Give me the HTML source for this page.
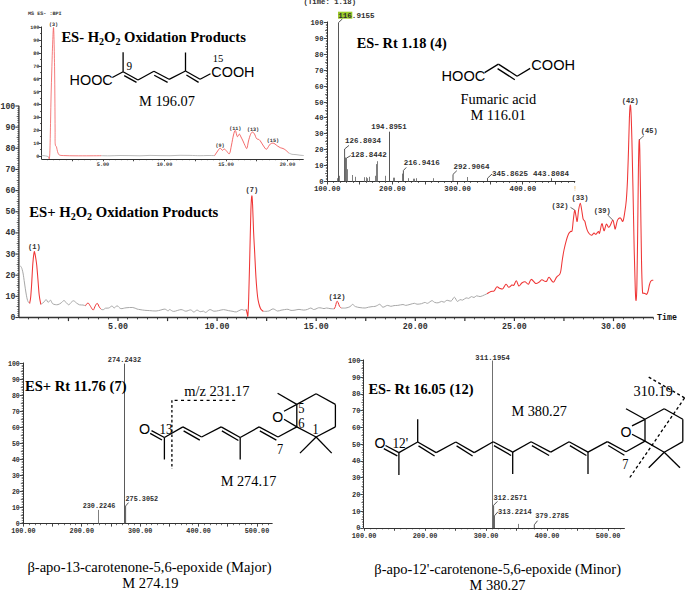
<!DOCTYPE html>
<html><head><meta charset="utf-8"><style>
html,body{margin:0;padding:0;background:#fff;}
body{width:685px;height:591px;overflow:hidden;}
svg{display:block;}
</style></head><body>
<svg width="685" height="591" viewBox="0 0 685 591" font-family="Liberation Sans, sans-serif">
<rect width="685" height="591" fill="#fff"/>
<line x1="18.9" y1="105.8" x2="18.9" y2="317.5" stroke="#333" stroke-width="1.3" />
<line x1="15.4" y1="317.5" x2="18.9" y2="317.5" stroke="#333" stroke-width="1.1" />
<line x1="17.4" y1="315.5" x2="18.9" y2="315.5" stroke="#333" stroke-width="0.7" />
<line x1="17.4" y1="313.5" x2="18.9" y2="313.5" stroke="#333" stroke-width="0.7" />
<line x1="17.4" y1="311.5" x2="18.9" y2="311.5" stroke="#333" stroke-width="0.7" />
<line x1="17.4" y1="309.5" x2="18.9" y2="309.5" stroke="#333" stroke-width="0.7" />
<line x1="16.7" y1="306.5" x2="18.9" y2="306.5" stroke="#333" stroke-width="0.8" />
<line x1="17.4" y1="304.5" x2="18.9" y2="304.5" stroke="#333" stroke-width="0.7" />
<line x1="17.4" y1="302.5" x2="18.9" y2="302.5" stroke="#333" stroke-width="0.7" />
<line x1="17.4" y1="300.5" x2="18.9" y2="300.5" stroke="#333" stroke-width="0.7" />
<line x1="17.4" y1="298.5" x2="18.9" y2="298.5" stroke="#333" stroke-width="0.7" />
<line x1="15.4" y1="296.35" x2="18.9" y2="296.35" stroke="#333" stroke-width="1.1" />
<line x1="17.4" y1="294.5" x2="18.9" y2="294.5" stroke="#333" stroke-width="0.7" />
<line x1="17.4" y1="292.5" x2="18.9" y2="292.5" stroke="#333" stroke-width="0.7" />
<line x1="17.4" y1="290.5" x2="18.9" y2="290.5" stroke="#333" stroke-width="0.7" />
<line x1="17.4" y1="287.5" x2="18.9" y2="287.5" stroke="#333" stroke-width="0.7" />
<line x1="16.7" y1="285.5" x2="18.9" y2="285.5" stroke="#333" stroke-width="0.8" />
<line x1="17.4" y1="283.5" x2="18.9" y2="283.5" stroke="#333" stroke-width="0.7" />
<line x1="17.4" y1="281.5" x2="18.9" y2="281.5" stroke="#333" stroke-width="0.7" />
<line x1="17.4" y1="279.5" x2="18.9" y2="279.5" stroke="#333" stroke-width="0.7" />
<line x1="17.4" y1="277.5" x2="18.9" y2="277.5" stroke="#333" stroke-width="0.7" />
<line x1="15.4" y1="275.2" x2="18.9" y2="275.2" stroke="#333" stroke-width="1.1" />
<line x1="17.4" y1="273.5" x2="18.9" y2="273.5" stroke="#333" stroke-width="0.7" />
<line x1="17.4" y1="270.5" x2="18.9" y2="270.5" stroke="#333" stroke-width="0.7" />
<line x1="17.4" y1="268.5" x2="18.9" y2="268.5" stroke="#333" stroke-width="0.7" />
<line x1="17.4" y1="266.5" x2="18.9" y2="266.5" stroke="#333" stroke-width="0.7" />
<line x1="16.7" y1="264.5" x2="18.9" y2="264.5" stroke="#333" stroke-width="0.8" />
<line x1="17.4" y1="262.5" x2="18.9" y2="262.5" stroke="#333" stroke-width="0.7" />
<line x1="17.4" y1="260.5" x2="18.9" y2="260.5" stroke="#333" stroke-width="0.7" />
<line x1="17.4" y1="258.5" x2="18.9" y2="258.5" stroke="#333" stroke-width="0.7" />
<line x1="17.4" y1="256.5" x2="18.9" y2="256.5" stroke="#333" stroke-width="0.7" />
<line x1="15.4" y1="254.05" x2="18.9" y2="254.05" stroke="#333" stroke-width="1.1" />
<line x1="17.4" y1="251.5" x2="18.9" y2="251.5" stroke="#333" stroke-width="0.7" />
<line x1="17.4" y1="249.5" x2="18.9" y2="249.5" stroke="#333" stroke-width="0.7" />
<line x1="17.4" y1="247.5" x2="18.9" y2="247.5" stroke="#333" stroke-width="0.7" />
<line x1="17.4" y1="245.5" x2="18.9" y2="245.5" stroke="#333" stroke-width="0.7" />
<line x1="16.7" y1="243.5" x2="18.9" y2="243.5" stroke="#333" stroke-width="0.8" />
<line x1="17.4" y1="241.5" x2="18.9" y2="241.5" stroke="#333" stroke-width="0.7" />
<line x1="17.4" y1="239.5" x2="18.9" y2="239.5" stroke="#333" stroke-width="0.7" />
<line x1="17.4" y1="237.5" x2="18.9" y2="237.5" stroke="#333" stroke-width="0.7" />
<line x1="17.4" y1="235.5" x2="18.9" y2="235.5" stroke="#333" stroke-width="0.7" />
<line x1="15.4" y1="232.9" x2="18.9" y2="232.9" stroke="#333" stroke-width="1.1" />
<line x1="17.4" y1="230.5" x2="18.9" y2="230.5" stroke="#333" stroke-width="0.7" />
<line x1="17.4" y1="228.5" x2="18.9" y2="228.5" stroke="#333" stroke-width="0.7" />
<line x1="17.4" y1="226.5" x2="18.9" y2="226.5" stroke="#333" stroke-width="0.7" />
<line x1="17.4" y1="224.5" x2="18.9" y2="224.5" stroke="#333" stroke-width="0.7" />
<line x1="16.7" y1="222.5" x2="18.9" y2="222.5" stroke="#333" stroke-width="0.8" />
<line x1="17.4" y1="220.5" x2="18.9" y2="220.5" stroke="#333" stroke-width="0.7" />
<line x1="17.4" y1="218.5" x2="18.9" y2="218.5" stroke="#333" stroke-width="0.7" />
<line x1="17.4" y1="215.5" x2="18.9" y2="215.5" stroke="#333" stroke-width="0.7" />
<line x1="17.4" y1="213.5" x2="18.9" y2="213.5" stroke="#333" stroke-width="0.7" />
<line x1="15.4" y1="211.75" x2="18.9" y2="211.75" stroke="#333" stroke-width="1.1" />
<line x1="17.4" y1="209.5" x2="18.9" y2="209.5" stroke="#333" stroke-width="0.7" />
<line x1="17.4" y1="207.5" x2="18.9" y2="207.5" stroke="#333" stroke-width="0.7" />
<line x1="17.4" y1="205.5" x2="18.9" y2="205.5" stroke="#333" stroke-width="0.7" />
<line x1="17.4" y1="203.5" x2="18.9" y2="203.5" stroke="#333" stroke-width="0.7" />
<line x1="16.7" y1="201.5" x2="18.9" y2="201.5" stroke="#333" stroke-width="0.8" />
<line x1="17.4" y1="199.5" x2="18.9" y2="199.5" stroke="#333" stroke-width="0.7" />
<line x1="17.4" y1="196.5" x2="18.9" y2="196.5" stroke="#333" stroke-width="0.7" />
<line x1="17.4" y1="194.5" x2="18.9" y2="194.5" stroke="#333" stroke-width="0.7" />
<line x1="17.4" y1="192.5" x2="18.9" y2="192.5" stroke="#333" stroke-width="0.7" />
<line x1="15.4" y1="190.6" x2="18.9" y2="190.6" stroke="#333" stroke-width="1.1" />
<line x1="17.4" y1="188.5" x2="18.9" y2="188.5" stroke="#333" stroke-width="0.7" />
<line x1="17.4" y1="186.5" x2="18.9" y2="186.5" stroke="#333" stroke-width="0.7" />
<line x1="17.4" y1="184.5" x2="18.9" y2="184.5" stroke="#333" stroke-width="0.7" />
<line x1="17.4" y1="182.5" x2="18.9" y2="182.5" stroke="#333" stroke-width="0.7" />
<line x1="16.7" y1="180.5" x2="18.9" y2="180.5" stroke="#333" stroke-width="0.8" />
<line x1="17.4" y1="177.5" x2="18.9" y2="177.5" stroke="#333" stroke-width="0.7" />
<line x1="17.4" y1="175.5" x2="18.9" y2="175.5" stroke="#333" stroke-width="0.7" />
<line x1="17.4" y1="173.5" x2="18.9" y2="173.5" stroke="#333" stroke-width="0.7" />
<line x1="17.4" y1="171.5" x2="18.9" y2="171.5" stroke="#333" stroke-width="0.7" />
<line x1="15.4" y1="169.45" x2="18.9" y2="169.45" stroke="#333" stroke-width="1.1" />
<line x1="17.4" y1="167.5" x2="18.9" y2="167.5" stroke="#333" stroke-width="0.7" />
<line x1="17.4" y1="165.5" x2="18.9" y2="165.5" stroke="#333" stroke-width="0.7" />
<line x1="17.4" y1="163.5" x2="18.9" y2="163.5" stroke="#333" stroke-width="0.7" />
<line x1="17.4" y1="160.5" x2="18.9" y2="160.5" stroke="#333" stroke-width="0.7" />
<line x1="16.7" y1="158.5" x2="18.9" y2="158.5" stroke="#333" stroke-width="0.8" />
<line x1="17.4" y1="156.5" x2="18.9" y2="156.5" stroke="#333" stroke-width="0.7" />
<line x1="17.4" y1="154.5" x2="18.9" y2="154.5" stroke="#333" stroke-width="0.7" />
<line x1="17.4" y1="152.5" x2="18.9" y2="152.5" stroke="#333" stroke-width="0.7" />
<line x1="17.4" y1="150.5" x2="18.9" y2="150.5" stroke="#333" stroke-width="0.7" />
<line x1="15.4" y1="148.3" x2="18.9" y2="148.3" stroke="#333" stroke-width="1.1" />
<line x1="17.4" y1="146.5" x2="18.9" y2="146.5" stroke="#333" stroke-width="0.7" />
<line x1="17.4" y1="144.5" x2="18.9" y2="144.5" stroke="#333" stroke-width="0.7" />
<line x1="17.4" y1="141.5" x2="18.9" y2="141.5" stroke="#333" stroke-width="0.7" />
<line x1="17.4" y1="139.5" x2="18.9" y2="139.5" stroke="#333" stroke-width="0.7" />
<line x1="16.7" y1="137.5" x2="18.9" y2="137.5" stroke="#333" stroke-width="0.8" />
<line x1="17.4" y1="135.5" x2="18.9" y2="135.5" stroke="#333" stroke-width="0.7" />
<line x1="17.4" y1="133.5" x2="18.9" y2="133.5" stroke="#333" stroke-width="0.7" />
<line x1="17.4" y1="131.5" x2="18.9" y2="131.5" stroke="#333" stroke-width="0.7" />
<line x1="17.4" y1="129.5" x2="18.9" y2="129.5" stroke="#333" stroke-width="0.7" />
<line x1="15.4" y1="127.15" x2="18.9" y2="127.15" stroke="#333" stroke-width="1.1" />
<line x1="17.4" y1="125.5" x2="18.9" y2="125.5" stroke="#333" stroke-width="0.7" />
<line x1="17.4" y1="122.5" x2="18.9" y2="122.5" stroke="#333" stroke-width="0.7" />
<line x1="17.4" y1="120.5" x2="18.9" y2="120.5" stroke="#333" stroke-width="0.7" />
<line x1="17.4" y1="118.5" x2="18.9" y2="118.5" stroke="#333" stroke-width="0.7" />
<line x1="16.7" y1="116.5" x2="18.9" y2="116.5" stroke="#333" stroke-width="0.8" />
<line x1="17.4" y1="114.5" x2="18.9" y2="114.5" stroke="#333" stroke-width="0.7" />
<line x1="17.4" y1="112.5" x2="18.9" y2="112.5" stroke="#333" stroke-width="0.7" />
<line x1="17.4" y1="110.5" x2="18.9" y2="110.5" stroke="#333" stroke-width="0.7" />
<line x1="17.4" y1="108.5" x2="18.9" y2="108.5" stroke="#333" stroke-width="0.7" />
<line x1="15.4" y1="106" x2="18.9" y2="106" stroke="#333" stroke-width="1.1" />
<text x="15.3" y="320" font-family="Liberation Mono" font-size="8.2" font-weight="bold" text-anchor="end" fill="#303030" >0</text>
<text x="15.3" y="298.85" font-family="Liberation Mono" font-size="8.2" font-weight="bold" text-anchor="end" fill="#303030" >10</text>
<text x="15.3" y="277.7" font-family="Liberation Mono" font-size="8.2" font-weight="bold" text-anchor="end" fill="#303030" >20</text>
<text x="15.3" y="256.55" font-family="Liberation Mono" font-size="8.2" font-weight="bold" text-anchor="end" fill="#303030" >30</text>
<text x="15.3" y="235.4" font-family="Liberation Mono" font-size="8.2" font-weight="bold" text-anchor="end" fill="#303030" >40</text>
<text x="15.3" y="214.25" font-family="Liberation Mono" font-size="8.2" font-weight="bold" text-anchor="end" fill="#303030" >50</text>
<text x="15.3" y="193.1" font-family="Liberation Mono" font-size="8.2" font-weight="bold" text-anchor="end" fill="#303030" >60</text>
<text x="15.3" y="171.95" font-family="Liberation Mono" font-size="8.2" font-weight="bold" text-anchor="end" fill="#303030" >70</text>
<text x="15.3" y="150.8" font-family="Liberation Mono" font-size="8.2" font-weight="bold" text-anchor="end" fill="#303030" >80</text>
<text x="15.3" y="129.65" font-family="Liberation Mono" font-size="8.2" font-weight="bold" text-anchor="end" fill="#303030" >90</text>
<text x="15.3" y="108.5" font-family="Liberation Mono" font-size="8.2" font-weight="bold" text-anchor="end" fill="#303030" >100</text>
<line x1="18.9" y1="317.5" x2="653.5" y2="317.5" stroke="#333" stroke-width="1.3" />
<line x1="28.5" y1="317.5" x2="28.5" y2="319.4" stroke="#333" stroke-width="0.9" />
<line x1="38.5" y1="317.5" x2="38.5" y2="319.4" stroke="#333" stroke-width="0.9" />
<line x1="48.5" y1="317.5" x2="48.5" y2="319.4" stroke="#333" stroke-width="0.9" />
<line x1="58.5" y1="317.5" x2="58.5" y2="319.4" stroke="#333" stroke-width="0.9" />
<line x1="68.45" y1="317.5" x2="68.45" y2="321.1" stroke="#333" stroke-width="1.2" />
<line x1="78.5" y1="317.5" x2="78.5" y2="319.4" stroke="#333" stroke-width="0.9" />
<line x1="88.5" y1="317.5" x2="88.5" y2="319.4" stroke="#333" stroke-width="0.9" />
<line x1="98.5" y1="317.5" x2="98.5" y2="319.4" stroke="#333" stroke-width="0.9" />
<line x1="108.5" y1="317.5" x2="108.5" y2="319.4" stroke="#333" stroke-width="0.9" />
<line x1="118" y1="317.5" x2="118" y2="321.1" stroke="#333" stroke-width="1.2" />
<line x1="127.5" y1="317.5" x2="127.5" y2="319.4" stroke="#333" stroke-width="0.9" />
<line x1="137.5" y1="317.5" x2="137.5" y2="319.4" stroke="#333" stroke-width="0.9" />
<line x1="147.5" y1="317.5" x2="147.5" y2="319.4" stroke="#333" stroke-width="0.9" />
<line x1="157.5" y1="317.5" x2="157.5" y2="319.4" stroke="#333" stroke-width="0.9" />
<line x1="167.55" y1="317.5" x2="167.55" y2="321.1" stroke="#333" stroke-width="1.2" />
<line x1="177.5" y1="317.5" x2="177.5" y2="319.4" stroke="#333" stroke-width="0.9" />
<line x1="187.5" y1="317.5" x2="187.5" y2="319.4" stroke="#333" stroke-width="0.9" />
<line x1="197.5" y1="317.5" x2="197.5" y2="319.4" stroke="#333" stroke-width="0.9" />
<line x1="207.5" y1="317.5" x2="207.5" y2="319.4" stroke="#333" stroke-width="0.9" />
<line x1="217.1" y1="317.5" x2="217.1" y2="321.1" stroke="#333" stroke-width="1.2" />
<line x1="227.5" y1="317.5" x2="227.5" y2="319.4" stroke="#333" stroke-width="0.9" />
<line x1="236.5" y1="317.5" x2="236.5" y2="319.4" stroke="#333" stroke-width="0.9" />
<line x1="246.5" y1="317.5" x2="246.5" y2="319.4" stroke="#333" stroke-width="0.9" />
<line x1="256.5" y1="317.5" x2="256.5" y2="319.4" stroke="#333" stroke-width="0.9" />
<line x1="266.65" y1="317.5" x2="266.65" y2="321.1" stroke="#333" stroke-width="1.2" />
<line x1="276.5" y1="317.5" x2="276.5" y2="319.4" stroke="#333" stroke-width="0.9" />
<line x1="286.5" y1="317.5" x2="286.5" y2="319.4" stroke="#333" stroke-width="0.9" />
<line x1="296.5" y1="317.5" x2="296.5" y2="319.4" stroke="#333" stroke-width="0.9" />
<line x1="306.5" y1="317.5" x2="306.5" y2="319.4" stroke="#333" stroke-width="0.9" />
<line x1="316.2" y1="317.5" x2="316.2" y2="321.1" stroke="#333" stroke-width="1.2" />
<line x1="326.5" y1="317.5" x2="326.5" y2="319.4" stroke="#333" stroke-width="0.9" />
<line x1="336.5" y1="317.5" x2="336.5" y2="319.4" stroke="#333" stroke-width="0.9" />
<line x1="345.5" y1="317.5" x2="345.5" y2="319.4" stroke="#333" stroke-width="0.9" />
<line x1="355.5" y1="317.5" x2="355.5" y2="319.4" stroke="#333" stroke-width="0.9" />
<line x1="365.75" y1="317.5" x2="365.75" y2="321.1" stroke="#333" stroke-width="1.2" />
<line x1="375.5" y1="317.5" x2="375.5" y2="319.4" stroke="#333" stroke-width="0.9" />
<line x1="385.5" y1="317.5" x2="385.5" y2="319.4" stroke="#333" stroke-width="0.9" />
<line x1="395.5" y1="317.5" x2="395.5" y2="319.4" stroke="#333" stroke-width="0.9" />
<line x1="405.5" y1="317.5" x2="405.5" y2="319.4" stroke="#333" stroke-width="0.9" />
<line x1="415.3" y1="317.5" x2="415.3" y2="321.1" stroke="#333" stroke-width="1.2" />
<line x1="425.5" y1="317.5" x2="425.5" y2="319.4" stroke="#333" stroke-width="0.9" />
<line x1="435.5" y1="317.5" x2="435.5" y2="319.4" stroke="#333" stroke-width="0.9" />
<line x1="445.5" y1="317.5" x2="445.5" y2="319.4" stroke="#333" stroke-width="0.9" />
<line x1="454.5" y1="317.5" x2="454.5" y2="319.4" stroke="#333" stroke-width="0.9" />
<line x1="464.85" y1="317.5" x2="464.85" y2="321.1" stroke="#333" stroke-width="1.2" />
<line x1="474.5" y1="317.5" x2="474.5" y2="319.4" stroke="#333" stroke-width="0.9" />
<line x1="484.5" y1="317.5" x2="484.5" y2="319.4" stroke="#333" stroke-width="0.9" />
<line x1="494.5" y1="317.5" x2="494.5" y2="319.4" stroke="#333" stroke-width="0.9" />
<line x1="504.5" y1="317.5" x2="504.5" y2="319.4" stroke="#333" stroke-width="0.9" />
<line x1="514.4" y1="317.5" x2="514.4" y2="321.1" stroke="#333" stroke-width="1.2" />
<line x1="524.5" y1="317.5" x2="524.5" y2="319.4" stroke="#333" stroke-width="0.9" />
<line x1="534.5" y1="317.5" x2="534.5" y2="319.4" stroke="#333" stroke-width="0.9" />
<line x1="544.5" y1="317.5" x2="544.5" y2="319.4" stroke="#333" stroke-width="0.9" />
<line x1="554.5" y1="317.5" x2="554.5" y2="319.4" stroke="#333" stroke-width="0.9" />
<line x1="563.95" y1="317.5" x2="563.95" y2="321.1" stroke="#333" stroke-width="1.2" />
<line x1="573.5" y1="317.5" x2="573.5" y2="319.4" stroke="#333" stroke-width="0.9" />
<line x1="583.5" y1="317.5" x2="583.5" y2="319.4" stroke="#333" stroke-width="0.9" />
<line x1="593.5" y1="317.5" x2="593.5" y2="319.4" stroke="#333" stroke-width="0.9" />
<line x1="603.5" y1="317.5" x2="603.5" y2="319.4" stroke="#333" stroke-width="0.9" />
<line x1="613.5" y1="317.5" x2="613.5" y2="321.1" stroke="#333" stroke-width="1.2" />
<line x1="623.5" y1="317.5" x2="623.5" y2="319.4" stroke="#333" stroke-width="0.9" />
<line x1="633.5" y1="317.5" x2="633.5" y2="319.4" stroke="#333" stroke-width="0.9" />
<line x1="643.5" y1="317.5" x2="643.5" y2="319.4" stroke="#333" stroke-width="0.9" />
<line x1="653.5" y1="317.5" x2="653.5" y2="319.4" stroke="#333" stroke-width="0.9" />
<text x="118" y="328.7" font-family="Liberation Mono" font-size="8.3" font-weight="bold" text-anchor="middle" fill="#303030" >5.00</text>
<text x="217.1" y="328.7" font-family="Liberation Mono" font-size="8.3" font-weight="bold" text-anchor="middle" fill="#303030" >10.00</text>
<text x="316.2" y="328.7" font-family="Liberation Mono" font-size="8.3" font-weight="bold" text-anchor="middle" fill="#303030" >15.00</text>
<text x="415.3" y="328.7" font-family="Liberation Mono" font-size="8.3" font-weight="bold" text-anchor="middle" fill="#303030" >20.00</text>
<text x="514.4" y="328.7" font-family="Liberation Mono" font-size="8.3" font-weight="bold" text-anchor="middle" fill="#303030" >25.00</text>
<text x="613.5" y="328.7" font-family="Liberation Mono" font-size="8.3" font-weight="bold" text-anchor="middle" fill="#303030" >30.00</text>
<text x="657" y="320.2" font-family="Liberation Mono" font-size="8.3" font-weight="bold" text-anchor="start" fill="#111" >Time</text>
<path d="M20.2,265.9 C20.42,266.17 21.03,266.32 21.5,267.5 C21.97,268.68 22.5,270.42 23,273 C23.5,275.58 24,279.67 24.5,283 C25,286.33 25.48,290.08 26,293 C26.52,295.92 27,298.77 27.6,300.5 C28.2,302.23 29.27,302.92 29.6,303.4" fill="none" stroke="#a8a8a8" stroke-width="1" stroke-linejoin="round" />
<path d="M40.8,304.3 C41.08,304.12 41.88,303.67 42.5,303.2 C43.12,302.73 43.88,302.1 44.5,301.5 C45.12,300.9 45.58,299.45 46.2,299.6 C46.82,299.75 47.48,302.3 48.2,302.4 C48.92,302.5 49.78,300 50.5,300.2 C51.22,300.4 51.72,302.87 52.5,303.6 C53.28,304.33 54.28,304.43 55.2,304.6 C56.12,304.77 57.03,304.87 58,304.6 C58.97,304.33 60,303.68 61,303 C62,302.32 63.17,300.58 64,300.5 C64.83,300.42 65.2,301.78 66,302.5 C66.8,303.22 67.97,304.8 68.8,304.8 C69.63,304.8 70.2,303.17 71,302.5 C71.8,301.83 72.68,300.72 73.6,300.8 C74.52,300.88 75.52,302.33 76.5,303 C77.48,303.67 78.42,304.47 79.5,304.8 C80.58,305.13 82.02,304.83 83,305 C83.98,305.17 85,305.67 85.4,305.8" fill="none" stroke="#a8a8a8" stroke-width="1" stroke-linejoin="round" />
<path d="M85.4,305.8 C85.83,305.33 87.13,302.88 88,303 C88.87,303.12 89.73,305.33 90.6,306.5 C91.47,307.67 92.42,310.12 93.2,310 C93.98,309.88 94.62,306.9 95.3,305.8 C95.98,304.7 96.62,303.17 97.3,303.4 C97.98,303.63 98.73,306.2 99.4,307.2 C100.07,308.2 100.98,309.03 101.3,309.4" fill="none" stroke="#ef3535" stroke-width="1" stroke-linejoin="round" />
<path d="M101.3,309.4 C101.63,309.45 102.6,309.9 103.3,309.7 C104,309.5 104.58,308.48 105.5,308.2 C106.42,307.92 107.72,308.37 108.8,308 C109.88,307.63 111.1,306 112,306 C112.9,306 113.35,308.03 114.2,308 C115.05,307.97 116,305.7 117.1,305.8 C118.2,305.9 119.32,308.27 120.8,308.6 C122.28,308.93 124,307.98 126,307.8 C128,307.62 130.97,307.3 132.8,307.5 C134.63,307.7 135.8,308.65 137,309 C138.2,309.35 138.7,309.38 140,309.6 C141.3,309.82 143.2,310.13 144.8,310.3 C146.4,310.47 147.73,310.48 149.6,310.6 C151.47,310.72 154.12,311.1 156,311 C157.88,310.9 159.42,310.32 160.9,310 C162.38,309.68 163.7,308.95 164.9,309.1 C166.1,309.25 167.3,310.83 168.1,310.9 C168.9,310.97 168.77,309.42 169.7,309.5 C170.63,309.58 171.82,311.38 173.7,311.4 C175.58,311.42 178.98,309.63 181,309.6 C183.02,309.57 184.2,311.15 185.8,311.2 C187.4,311.25 189.27,309.77 190.6,309.9 C191.93,310.03 192.73,311.97 193.8,312 C194.87,312.03 195.93,310.15 197,310.1 C198.07,310.05 199.13,311.53 200.2,311.7 C201.27,311.87 202.47,310.98 203.4,311.1 C204.33,311.22 204.72,312.65 205.8,312.4 C206.88,312.15 208.55,309.8 209.9,309.6 C211.25,309.4 212.43,311.03 213.9,311.2 C215.37,311.37 217.1,310.87 218.7,310.6 C220.3,310.33 221.9,309.6 223.5,309.6 C225.1,309.6 226.7,310.3 228.3,310.6 C229.9,310.9 231.75,311.18 233.1,311.4 C234.45,311.62 235.05,312.2 236.4,311.9 C237.75,311.6 239.87,309.87 241.2,309.6 C242.53,309.33 243.55,310.32 244.4,310.3 C245.25,310.28 245.98,309.63 246.3,309.5" fill="none" stroke="#a8a8a8" stroke-width="1" stroke-linejoin="round" />
<path d="M29.6,303.4 C29.77,302.5 30.27,301.07 30.6,298 C30.93,294.93 31.23,290.67 31.6,285 C31.97,279.33 32.38,269.45 32.8,264 C33.22,258.55 33.75,254.05 34.1,252.3 C34.45,250.55 34.6,252.38 34.9,253.5 C35.2,254.62 35.58,256.93 35.9,259 C36.22,261.07 36.47,262.57 36.8,265.9 C37.13,269.23 37.5,274.15 37.9,279 C38.3,283.85 38.72,290.78 39.2,295 C39.68,299.22 40.53,302.75 40.8,304.3" fill="none" stroke="#ef3535" stroke-width="1.05" stroke-linejoin="round" />
<path d="M246.3,309.5 C246.45,310.17 246.93,312.48 247.2,313.5 C247.47,314.52 247.65,318.18 247.9,315.6 C248.15,313.02 248.38,308.1 248.7,298 C249.02,287.9 249.43,269.67 249.8,255 C250.17,240.33 250.57,219.83 250.9,210 C251.23,200.17 251.52,196.83 251.8,196 C252.08,195.17 252.3,199 252.6,205 C252.9,211 253.25,224 253.6,232 C253.95,240 254.3,245.33 254.7,253 C255.1,260.67 255.52,270.7 256,278 C256.48,285.3 257.1,292.47 257.6,296.8 C258.1,301.13 258.52,302.05 259,304 C259.48,305.95 260,307.43 260.5,308.5 C261,309.57 261.5,309.92 262,310.4 C262.5,310.88 263.25,311.23 263.5,311.4" fill="none" stroke="#ef3535" stroke-width="1.05" stroke-linejoin="round" />
<path d="M263.5,311.4 C264.38,311.33 267.2,311.42 268.8,311 C270.4,310.58 271.65,308.9 273.1,308.9 C274.55,308.9 276.18,310.78 277.5,311 C278.82,311.22 279.83,310.43 281,310.2 C282.17,309.97 283.33,309.75 284.5,309.6 C285.67,309.45 286.92,309.17 288,309.3 C289.08,309.43 289.83,310.27 291,310.4 C292.17,310.53 293.67,310.27 295,310.1 C296.33,309.93 297.53,309.4 299,309.4 C300.47,309.4 302.38,310.1 303.8,310.1 C305.22,310.1 306.33,309.75 307.5,309.4 C308.67,309.05 309.8,307.98 310.8,308 C311.8,308.02 312.63,309.35 313.5,309.5 C314.37,309.65 315.17,309.18 316,308.9 C316.83,308.62 317.62,307.95 318.5,307.8 C319.38,307.65 320.38,307.87 321.3,308 C322.22,308.13 323.12,308.6 324,308.6 C324.88,308.6 325.6,308 326.6,308 C327.6,308 328.73,308.45 330,308.6 C331.27,308.75 333.5,308.85 334.2,308.9" fill="none" stroke="#a8a8a8" stroke-width="1" stroke-linejoin="round" />
<path d="M334.2,308.9 C334.4,308.5 335.03,307.57 335.4,306.5 C335.77,305.43 336.1,303.38 336.4,302.5 C336.7,301.62 336.9,301.15 337.2,301.2 C337.5,301.25 337.8,301.92 338.2,302.8 C338.6,303.68 339.08,305.63 339.6,306.5 C340.12,307.37 341.02,307.75 341.3,308" fill="none" stroke="#ef3535" stroke-width="1" stroke-linejoin="round" />
<path d="M341.3,308 C342.05,308 344.32,308.23 345.8,308 C347.28,307.77 349.08,307.2 350.2,306.6 C351.32,306 351.62,304.4 352.5,304.4 C353.38,304.4 354.25,306.07 355.5,306.6 C356.75,307.13 358.4,307.37 360,307.6 C361.6,307.83 363.68,308.07 365.1,308 C366.52,307.93 367.33,307.43 368.5,307.2 C369.67,306.97 371.02,306.73 372.1,306.6 C373.18,306.47 374.12,306.6 375,306.4 C375.88,306.2 376.57,305.75 377.4,305.4 C378.23,305.05 379.08,304 380,304.3 C380.92,304.6 381.68,307.02 382.9,307.2 C384.12,307.38 385.98,305.55 387.3,305.4 C388.62,305.25 389.68,306.27 390.8,306.3 C391.92,306.33 392.83,305.75 394,305.6 C395.17,305.45 396.3,305.58 397.8,305.4 C399.3,305.22 401.68,304.5 403,304.5 C404.32,304.5 404.53,305.42 405.7,305.4 C406.87,305.38 408.55,304.75 410,304.4 C411.45,304.05 413.23,303.33 414.4,303.3 C415.57,303.27 415.83,304.13 417,304.2 C418.17,304.27 420.08,304 421.4,303.7 C422.72,303.4 423.87,302.47 424.9,302.4 C425.93,302.33 426.43,303.58 427.6,303.3 C428.77,303.02 430.73,300.85 431.9,300.7 C433.07,300.55 433.57,302.05 434.6,302.4 C435.63,302.75 436.93,302.97 438.1,302.8 C439.27,302.63 440.58,301.5 441.6,301.4 C442.62,301.3 443.33,302.38 444.2,302.2 C445.07,302.02 445.63,300.5 446.8,300.3 C447.97,300.1 449.93,301.52 451.2,301 C452.47,300.48 453.38,297.13 454.4,297.2 C455.42,297.27 456.37,301 457.3,301.4 C458.23,301.8 459.12,299.82 460,299.6 C460.88,299.38 461.58,300.38 462.6,300.1 C463.62,299.82 465.08,298.18 466.1,297.9 C467.12,297.62 467.82,298.62 468.7,298.4 C469.58,298.18 470.52,296.75 471.4,296.6 C472.28,296.45 473.13,297.63 474,297.5 C474.87,297.37 475.58,295.95 476.6,295.8 C477.62,295.65 478.78,296.75 480.1,296.6 C481.42,296.45 483.33,295.38 484.5,294.9 C485.67,294.42 486.67,293.9 487.1,293.7" fill="none" stroke="#a8a8a8" stroke-width="1" stroke-linejoin="round" />
<path d="M487.1,293.7 C487.73,293.33 489.72,291.97 490.9,291.5 C492.08,291.03 493.22,291.67 494.2,290.9 C495.18,290.13 495.92,287.35 496.8,286.9 C497.68,286.45 498.52,287.87 499.5,288.2 C500.48,288.53 501.62,289.55 502.7,288.9 C503.78,288.25 505,284.57 506,284.3 C507,284.03 507.72,287.18 508.7,287.3 C509.68,287.42 511.03,285.35 511.9,285 C512.77,284.65 513.17,285.9 513.9,285.2 C514.63,284.5 515.47,280.67 516.3,280.8 C517.13,280.93 517.98,285.63 518.9,286 C519.82,286.37 520.77,283.72 521.8,283 C522.83,282.28 524,281.48 525.1,281.7 C526.2,281.92 527.38,284.68 528.4,284.3 C529.42,283.92 530,279.55 531.2,279.4 C532.4,279.25 534.32,282.92 535.6,283.4 C536.88,283.88 537.87,282.92 538.9,282.3 C539.93,281.68 540.82,279.87 541.8,279.7 C542.78,279.53 543.97,281.08 544.8,281.3 C545.63,281.52 546.08,281.67 546.8,281 C547.52,280.33 548.02,277.08 549.1,277.3 C550.18,277.52 552.05,282.33 553.3,282.3 C554.55,282.27 555.55,278.4 556.6,277.1 C557.65,275.8 558.9,275.52 559.6,274.5 C560.3,273.48 560.35,273.42 560.8,271 C561.25,268.58 561.77,263.5 562.3,260 C562.83,256.5 563.35,253.2 564,250 C564.65,246.8 565.45,243.47 566.2,240.8 C566.95,238.13 567.78,235.55 568.5,234 C569.22,232.45 569.9,232.07 570.5,231.5 C571.1,230.93 571.63,232.52 572.1,230.6 C572.57,228.68 572.87,223.38 573.3,220 C573.73,216.62 574.25,210.97 574.7,210.3 C575.15,209.63 575.58,214.17 576,216 C576.42,217.83 576.77,222.3 577.2,221.3 C577.63,220.3 578.08,213.02 578.6,210 C579.12,206.98 579.78,203.2 580.3,203.2 C580.82,203.2 581.23,207.4 581.7,210 C582.17,212.6 582.58,216.92 583.1,218.8 C583.62,220.68 584.32,220.1 584.8,221.3 C585.28,222.5 585.57,224.45 586,226 C586.43,227.55 586.82,229.27 587.4,230.6 C587.98,231.93 588.8,233.22 589.5,234 C590.2,234.78 590.83,235.45 591.6,235.3 C592.37,235.15 593.4,233.27 594.1,233.1 C594.8,232.93 595.08,234.57 595.8,234.3 C596.52,234.03 597.77,231.7 598.4,231.5 C599.03,231.3 599.03,234.38 599.6,233.1 C600.17,231.82 601.2,224.65 601.8,223.8 C602.4,222.95 602.78,226.87 603.2,228 C603.62,229.13 603.78,231.23 604.3,230.6 C604.82,229.97 605.6,224.77 606.3,224.2 C607,223.63 607.85,226.98 608.5,227.2 C609.15,227.42 609.48,226.68 610.2,225.5 C610.92,224.32 612.13,220.18 612.8,220.1 C613.47,220.02 613.78,223.53 614.2,225 C614.62,226.47 614.75,229.72 615.3,228.9 C615.85,228.08 616.65,221.93 617.5,220.1 C618.35,218.27 619.5,217.7 620.4,217.9 C621.3,218.1 622.17,222.28 622.9,221.3 C623.63,220.32 624.23,215.52 624.8,212 C625.37,208.48 625.85,205.53 626.3,200.2 C626.75,194.87 627.13,188.37 627.5,180 C627.87,171.63 628.18,160.33 628.5,150 C628.82,139.67 629.12,125.45 629.4,118 C629.68,110.55 629.93,106.3 630.2,105.3 C630.47,104.3 630.72,106.22 631,112 C631.28,117.78 631.57,127 631.9,140 C632.23,153 632.62,171.67 633,190 C633.38,208.33 633.82,233.33 634.2,250 C634.58,266.67 634.98,281.62 635.3,290 C635.62,298.38 635.83,301.13 636.1,300.3 C636.37,299.47 636.63,296.72 636.9,285 C637.17,273.28 637.45,249.17 637.7,230 C637.95,210.83 638.17,184.83 638.4,170 C638.63,155.17 638.87,144.33 639.1,141 C639.33,137.67 639.55,140.17 639.8,150 C640.05,159.83 640.32,181.67 640.6,200 C640.88,218.33 641.2,245 641.5,260 C641.8,275 642.1,284.5 642.4,290 C642.7,295.5 642.87,292.42 643.3,293 C643.73,293.58 644.45,293.28 645,293.5 C645.55,293.72 646.1,294.63 646.6,294.3 C647.1,293.97 647.53,293.05 648,291.5 C648.47,289.95 648.97,286.67 649.4,285 C649.83,283.33 650.17,282.28 650.6,281.5 C651.03,280.72 651.55,280.52 652,280.3 C652.45,280.08 653.08,280.22 653.3,280.2" fill="none" stroke="#ef3535" stroke-width="1.05" stroke-linejoin="round" />
<text x="34.4" y="248.8" font-family="Liberation Mono" font-size="7.1" font-weight="bold" text-anchor="middle" fill="#303030" >(1)</text>
<text x="251.8" y="192.2" font-family="Liberation Mono" font-size="7.1" font-weight="bold" text-anchor="middle" fill="#303030" >(7)</text>
<text x="337.1" y="298.8" font-family="Liberation Mono" font-size="7.1" font-weight="bold" text-anchor="middle" fill="#303030" >(12)</text>
<text x="559.9" y="207.8" font-family="Liberation Mono" font-size="7.1" font-weight="bold" text-anchor="middle" fill="#303030" >(32)</text>
<text x="580.1" y="200.2" font-family="Liberation Mono" font-size="7.1" font-weight="bold" text-anchor="middle" fill="#303030" >(33)</text>
<text x="602.2" y="212.8" font-family="Liberation Mono" font-size="7.1" font-weight="bold" text-anchor="middle" fill="#303030" >(39)</text>
<text x="630.2" y="103" font-family="Liberation Mono" font-size="7.1" font-weight="bold" text-anchor="middle" fill="#303030" >(42)</text>
<text x="649.3" y="133.2" font-family="Liberation Mono" font-size="7.1" font-weight="bold" text-anchor="middle" fill="#303030" >(45)</text>
<line x1="570.5" y1="207.4" x2="574.7" y2="210" stroke="#444" stroke-width="0.8" />
<line x1="607.7" y1="215" x2="612.8" y2="220.1" stroke="#444" stroke-width="0.8" />
<line x1="639.1" y1="140" x2="643.9" y2="135.7" stroke="#444" stroke-width="0.8" />
<text x="29.2" y="217.1" font-family="Liberation Serif" font-size="14.7" font-weight="bold">ES+ H<tspan font-size="10" dy="3">2</tspan><tspan dy="-3">O</tspan><tspan font-size="10" dy="3">2</tspan><tspan dy="-3"> Oxidation Products</tspan></text>
<line x1="41.5" y1="26.5" x2="41.5" y2="159" stroke="#333" stroke-width="1" />
<line x1="39" y1="156.5" x2="41.3" y2="156.5" stroke="#333" stroke-width="0.9" />
<line x1="40" y1="149.5" x2="41.3" y2="149.5" stroke="#333" stroke-width="0.8" />
<line x1="39" y1="143.5" x2="41.3" y2="143.5" stroke="#333" stroke-width="0.9" />
<line x1="40" y1="136.5" x2="41.3" y2="136.5" stroke="#333" stroke-width="0.8" />
<line x1="39" y1="130.5" x2="41.3" y2="130.5" stroke="#333" stroke-width="0.9" />
<line x1="40" y1="123.5" x2="41.3" y2="123.5" stroke="#333" stroke-width="0.8" />
<line x1="39" y1="117.5" x2="41.3" y2="117.5" stroke="#333" stroke-width="0.9" />
<line x1="40" y1="111.5" x2="41.3" y2="111.5" stroke="#333" stroke-width="0.8" />
<line x1="39" y1="104.5" x2="41.3" y2="104.5" stroke="#333" stroke-width="0.9" />
<line x1="40" y1="98.5" x2="41.3" y2="98.5" stroke="#333" stroke-width="0.8" />
<line x1="39" y1="91.5" x2="41.3" y2="91.5" stroke="#333" stroke-width="0.9" />
<line x1="40" y1="85.5" x2="41.3" y2="85.5" stroke="#333" stroke-width="0.8" />
<line x1="39" y1="78.5" x2="41.3" y2="78.5" stroke="#333" stroke-width="0.9" />
<line x1="40" y1="72.5" x2="41.3" y2="72.5" stroke="#333" stroke-width="0.8" />
<line x1="39" y1="66.5" x2="41.3" y2="66.5" stroke="#333" stroke-width="0.9" />
<line x1="40" y1="59.5" x2="41.3" y2="59.5" stroke="#333" stroke-width="0.8" />
<line x1="39" y1="53.5" x2="41.3" y2="53.5" stroke="#333" stroke-width="0.9" />
<line x1="40" y1="46.5" x2="41.3" y2="46.5" stroke="#333" stroke-width="0.8" />
<line x1="39" y1="40.5" x2="41.3" y2="40.5" stroke="#333" stroke-width="0.9" />
<line x1="40" y1="33.5" x2="41.3" y2="33.5" stroke="#333" stroke-width="0.8" />
<line x1="39" y1="27.5" x2="41.3" y2="27.5" stroke="#333" stroke-width="0.9" />
<text x="39.4" y="158" font-family="Liberation Mono" font-size="5.1" font-weight="bold" text-anchor="end" fill="#303030" text-rendering="geometricPrecision">0</text>
<text x="39.4" y="145.12" font-family="Liberation Mono" font-size="5.1" font-weight="bold" text-anchor="end" fill="#303030" text-rendering="geometricPrecision">10</text>
<text x="39.4" y="132.24" font-family="Liberation Mono" font-size="5.1" font-weight="bold" text-anchor="end" fill="#303030" text-rendering="geometricPrecision">20</text>
<text x="39.4" y="119.36" font-family="Liberation Mono" font-size="5.1" font-weight="bold" text-anchor="end" fill="#303030" text-rendering="geometricPrecision">30</text>
<text x="39.4" y="106.48" font-family="Liberation Mono" font-size="5.1" font-weight="bold" text-anchor="end" fill="#303030" text-rendering="geometricPrecision">40</text>
<text x="39.4" y="93.6" font-family="Liberation Mono" font-size="5.1" font-weight="bold" text-anchor="end" fill="#303030" text-rendering="geometricPrecision">50</text>
<text x="39.4" y="80.72" font-family="Liberation Mono" font-size="5.1" font-weight="bold" text-anchor="end" fill="#303030" text-rendering="geometricPrecision">60</text>
<text x="39.4" y="67.84" font-family="Liberation Mono" font-size="5.1" font-weight="bold" text-anchor="end" fill="#303030" text-rendering="geometricPrecision">70</text>
<text x="39.4" y="54.96" font-family="Liberation Mono" font-size="5.1" font-weight="bold" text-anchor="end" fill="#303030" text-rendering="geometricPrecision">80</text>
<text x="39.4" y="42.08" font-family="Liberation Mono" font-size="5.1" font-weight="bold" text-anchor="end" fill="#303030" text-rendering="geometricPrecision">90</text>
<text x="39.4" y="29.2" font-family="Liberation Mono" font-size="5.1" font-weight="bold" text-anchor="end" fill="#303030" text-rendering="geometricPrecision">100</text>
<line x1="41.3" y1="159.5" x2="303.7" y2="159.5" stroke="#333" stroke-width="1" />
<line x1="47.5" y1="159" x2="47.5" y2="160.2" stroke="#333" stroke-width="0.8" />
<line x1="53.5" y1="159" x2="53.5" y2="160.2" stroke="#333" stroke-width="0.8" />
<line x1="59.5" y1="159" x2="59.5" y2="160.2" stroke="#333" stroke-width="0.8" />
<line x1="66.5" y1="159" x2="66.5" y2="160.2" stroke="#333" stroke-width="0.8" />
<line x1="72.5" y1="159" x2="72.5" y2="161.3" stroke="#333" stroke-width="0.9" />
<line x1="78.5" y1="159" x2="78.5" y2="160.2" stroke="#333" stroke-width="0.8" />
<line x1="84.5" y1="159" x2="84.5" y2="160.2" stroke="#333" stroke-width="0.8" />
<line x1="90.5" y1="159" x2="90.5" y2="160.2" stroke="#333" stroke-width="0.8" />
<line x1="96.5" y1="159" x2="96.5" y2="160.2" stroke="#333" stroke-width="0.8" />
<line x1="103.5" y1="159" x2="103.5" y2="161.3" stroke="#333" stroke-width="0.9" />
<line x1="109.5" y1="159" x2="109.5" y2="160.2" stroke="#333" stroke-width="0.8" />
<line x1="115.5" y1="159" x2="115.5" y2="160.2" stroke="#333" stroke-width="0.8" />
<line x1="121.5" y1="159" x2="121.5" y2="160.2" stroke="#333" stroke-width="0.8" />
<line x1="127.5" y1="159" x2="127.5" y2="160.2" stroke="#333" stroke-width="0.8" />
<line x1="133.5" y1="159" x2="133.5" y2="161.3" stroke="#333" stroke-width="0.9" />
<line x1="139.5" y1="159" x2="139.5" y2="160.2" stroke="#333" stroke-width="0.8" />
<line x1="146.5" y1="159" x2="146.5" y2="160.2" stroke="#333" stroke-width="0.8" />
<line x1="152.5" y1="159" x2="152.5" y2="160.2" stroke="#333" stroke-width="0.8" />
<line x1="158.5" y1="159" x2="158.5" y2="160.2" stroke="#333" stroke-width="0.8" />
<line x1="164.5" y1="159" x2="164.5" y2="161.3" stroke="#333" stroke-width="0.9" />
<line x1="170.5" y1="159" x2="170.5" y2="160.2" stroke="#333" stroke-width="0.8" />
<line x1="176.5" y1="159" x2="176.5" y2="160.2" stroke="#333" stroke-width="0.8" />
<line x1="182.5" y1="159" x2="182.5" y2="160.2" stroke="#333" stroke-width="0.8" />
<line x1="189.5" y1="159" x2="189.5" y2="160.2" stroke="#333" stroke-width="0.8" />
<line x1="195.5" y1="159" x2="195.5" y2="161.3" stroke="#333" stroke-width="0.9" />
<line x1="201.5" y1="159" x2="201.5" y2="160.2" stroke="#333" stroke-width="0.8" />
<line x1="207.5" y1="159" x2="207.5" y2="160.2" stroke="#333" stroke-width="0.8" />
<line x1="213.5" y1="159" x2="213.5" y2="160.2" stroke="#333" stroke-width="0.8" />
<line x1="219.5" y1="159" x2="219.5" y2="160.2" stroke="#333" stroke-width="0.8" />
<line x1="226.5" y1="159" x2="226.5" y2="161.3" stroke="#333" stroke-width="0.9" />
<line x1="232.5" y1="159" x2="232.5" y2="160.2" stroke="#333" stroke-width="0.8" />
<line x1="238.5" y1="159" x2="238.5" y2="160.2" stroke="#333" stroke-width="0.8" />
<line x1="244.5" y1="159" x2="244.5" y2="160.2" stroke="#333" stroke-width="0.8" />
<line x1="250.5" y1="159" x2="250.5" y2="160.2" stroke="#333" stroke-width="0.8" />
<line x1="256.5" y1="159" x2="256.5" y2="161.3" stroke="#333" stroke-width="0.9" />
<line x1="262.5" y1="159" x2="262.5" y2="160.2" stroke="#333" stroke-width="0.8" />
<line x1="269.5" y1="159" x2="269.5" y2="160.2" stroke="#333" stroke-width="0.8" />
<line x1="275.5" y1="159" x2="275.5" y2="160.2" stroke="#333" stroke-width="0.8" />
<line x1="281.5" y1="159" x2="281.5" y2="160.2" stroke="#333" stroke-width="0.8" />
<line x1="287.5" y1="159" x2="287.5" y2="161.3" stroke="#333" stroke-width="0.9" />
<line x1="293.5" y1="159" x2="293.5" y2="160.2" stroke="#333" stroke-width="0.8" />
<line x1="299.5" y1="159" x2="299.5" y2="160.2" stroke="#333" stroke-width="0.8" />
<text x="103" y="166.2" font-family="Liberation Mono" font-size="5.2" font-weight="bold" text-anchor="middle" fill="#303030" text-rendering="geometricPrecision">5.00</text>
<text x="164.5" y="166.2" font-family="Liberation Mono" font-size="5.2" font-weight="bold" text-anchor="middle" fill="#303030" text-rendering="geometricPrecision">10.00</text>
<text x="226" y="166.2" font-family="Liberation Mono" font-size="5.2" font-weight="bold" text-anchor="middle" fill="#303030" text-rendering="geometricPrecision">15.00</text>
<text x="287.5" y="166.2" font-family="Liberation Mono" font-size="5.2" font-weight="bold" text-anchor="middle" fill="#303030" text-rendering="geometricPrecision">20.00</text>
<text x="28" y="14.5" font-family="Liberation Mono" font-size="5.1" font-weight="bold" text-anchor="start" fill="#303030" text-rendering="geometricPrecision">MS ES- :BPI</text>
<text x="53.5" y="26" font-family="Liberation Mono" font-size="5.1" font-weight="bold" text-anchor="middle" fill="#303030" text-rendering="geometricPrecision">(3)</text>
<path d="M41.5,155.5 C41.92,155.53 43.08,155.58 44,155.7 C44.92,155.82 46.23,156 47,156.2 C47.77,156.4 48.33,156.78 48.6,156.9" fill="none" stroke="#a8a8a8" stroke-width="0.8" stroke-linejoin="round" />
<path d="M48.6,156.9 C48.73,157.15 49.17,159.88 49.4,158.4 C49.63,156.92 49.8,154.4 50,148 C50.2,141.6 50.42,128.83 50.6,120 C50.78,111.17 50.9,103.33 51.1,95 C51.3,86.67 51.53,78.83 51.8,70 C52.07,61.17 52.42,49.1 52.7,42 C52.98,34.9 53.27,27.4 53.5,27.4 C53.73,27.4 53.92,34.9 54.1,42 C54.28,49.1 54.47,60.33 54.6,70 C54.73,79.67 54.82,90 54.9,100 C54.98,110 55.05,122.7 55.1,130 C55.15,137.3 54.97,140.97 55.2,143.8 C55.43,146.63 56.12,145.72 56.5,147 C56.88,148.28 57.15,150.3 57.5,151.5 C57.85,152.7 58.15,153.57 58.6,154.2 C59.05,154.83 59.13,155.07 60.2,155.3 C61.27,155.53 62.53,155.52 65,155.6 C67.47,155.68 70.83,155.77 75,155.8 C79.17,155.83 85.62,155.82 90,155.8 C94.38,155.78 99.42,155.72 101.3,155.7" fill="none" stroke="#f04545" stroke-width="0.7" stroke-linejoin="round" />
<path d="M101.3,155.7 C102.75,155.72 106.88,155.83 110,155.8 C113.12,155.77 116.67,155.53 120,155.5 C123.33,155.47 126.67,155.55 130,155.6 C133.33,155.65 136.67,155.83 140,155.8 C143.33,155.77 146.67,155.43 150,155.4 C153.33,155.37 156.67,155.55 160,155.6 C163.33,155.65 166.67,155.75 170,155.7 C173.33,155.65 176.67,155.35 180,155.3 C183.33,155.25 186.67,155.33 190,155.4 C193.33,155.47 197.17,155.68 200,155.7 C202.83,155.72 204.57,155.52 207,155.5 C209.43,155.48 213.33,155.58 214.6,155.6" fill="none" stroke="#a8a8a8" stroke-width="0.8" stroke-linejoin="round" />
<path d="M214.6,155.6 C215,155 216.1,153.23 217,152 C217.9,150.77 219.1,148.48 220,148.2 C220.9,147.92 221.67,150.17 222.4,150.3 C223.13,150.43 223.72,148.88 224.4,149 C225.08,149.12 225.65,150.23 226.5,151 C227.35,151.77 228.67,154.6 229.5,153.6 C230.33,152.6 230.83,148.1 231.5,145 C232.17,141.9 232.87,137.43 233.5,135 C234.13,132.57 234.67,130.13 235.3,130.4 C235.93,130.67 236.63,135.98 237.3,136.6 C237.97,137.22 238.68,134.03 239.3,134.1 C239.92,134.17 240.38,135.85 241,137 C241.62,138.15 242.33,139.58 243,141 C243.67,142.42 244.35,144.27 245,145.5 C245.65,146.73 246.32,149.15 246.9,148.4 C247.48,147.65 247.9,143.32 248.5,141 C249.1,138.68 249.85,135.98 250.5,134.5 C251.15,133.02 251.73,132.18 252.4,132.1 C253.07,132.02 253.82,132.93 254.5,134 C255.18,135.07 255.72,137.55 256.5,138.5 C257.28,139.45 258.45,139.12 259.2,139.7 C259.95,140.28 260.28,140.95 261,142 C261.72,143.05 262.62,144.78 263.5,146 C264.38,147.22 265.47,149.22 266.3,149.3 C267.13,149.38 267.8,147.42 268.5,146.5 C269.2,145.58 269.77,144.37 270.5,143.8 C271.23,143.23 272.15,143.07 272.9,143.1 C273.65,143.13 274.23,143.52 275,144 C275.77,144.48 276.57,145.37 277.5,146 C278.43,146.63 279.68,147.38 280.6,147.8 C281.52,148.22 282.18,148.13 283,148.5 C283.82,148.87 284.53,149.25 285.5,150 C286.47,150.75 288.25,152.5 288.8,153" fill="none" stroke="#f04545" stroke-width="0.8" stroke-linejoin="round" />
<path d="M288.8,153 C289.33,153.22 290.8,154.03 292,154.3 C293.2,154.57 294.67,154.45 296,154.6 C297.33,154.75 298.72,155.05 300,155.2 C301.28,155.35 303.08,155.45 303.7,155.5" fill="none" stroke="#a8a8a8" stroke-width="0.8" stroke-linejoin="round" />
<text x="220" y="147.2" font-family="Liberation Mono" font-size="5.1" font-weight="bold" text-anchor="middle" fill="#303030" text-rendering="geometricPrecision">(9)</text>
<text x="235.3" y="129.6" font-family="Liberation Mono" font-size="5.1" font-weight="bold" text-anchor="middle" fill="#303030" text-rendering="geometricPrecision">(11)</text>
<text x="253" y="131.2" font-family="Liberation Mono" font-size="5.1" font-weight="bold" text-anchor="middle" fill="#303030" text-rendering="geometricPrecision">(13)</text>
<text x="272.9" y="142.1" font-family="Liberation Mono" font-size="5.1" font-weight="bold" text-anchor="middle" fill="#303030" text-rendering="geometricPrecision">(15)</text>
<text x="61.4" y="41.6" font-family="Liberation Serif" font-size="14.6" font-weight="bold">ES- H<tspan font-size="10" dy="3">2</tspan><tspan dy="-3">O</tspan><tspan font-size="10" dy="3">2</tspan><tspan dy="-3"> Oxidation Products</tspan></text>
<text x="69.6" y="85.2" font-family="Liberation Sans" font-size="14.4" font-weight="normal" text-anchor="start" fill="#000" >HOOC</text>
<line x1="112.3" y1="77.5" x2="123.1" y2="71.7" stroke="#000" stroke-width="1.3" />
<line x1="123.1" y1="71.7" x2="123.1" y2="52.3" stroke="#000" stroke-width="1.3" />
<line x1="123.1" y1="71.7" x2="138" y2="80" stroke="#000" stroke-width="1.3" />
<line x1="124.2" y1="75.6" x2="136.5" y2="82.4" stroke="#000" stroke-width="1.3" />
<line x1="138" y1="80" x2="153.9" y2="71.2" stroke="#000" stroke-width="1.3" />
<line x1="153.9" y1="71.2" x2="169.1" y2="79.3" stroke="#000" stroke-width="1.3" />
<line x1="154.2" y1="75.2" x2="167.6" y2="82.4" stroke="#000" stroke-width="1.3" />
<line x1="169.1" y1="79.3" x2="185.5" y2="71" stroke="#000" stroke-width="1.3" />
<line x1="185.5" y1="71" x2="185.5" y2="52.5" stroke="#000" stroke-width="1.3" />
<line x1="185.5" y1="71" x2="200.1" y2="79.3" stroke="#000" stroke-width="1.3" />
<line x1="186.4" y1="75" x2="198.6" y2="82.4" stroke="#000" stroke-width="1.3" />
<line x1="200.1" y1="79.3" x2="210.5" y2="73.8" stroke="#000" stroke-width="1.3" />
<text x="211.3" y="76.7" font-family="Liberation Sans" font-size="14.4" font-weight="normal" text-anchor="start" fill="#000" >COOH</text>
<text transform="translate(126.5,69.7) scale(0.9,1.0)" font-family="Liberation Serif" font-size="12.5" font-weight="normal" fill="#000">9</text>
<text transform="translate(212.8,61.8) scale(0.95,1.0)" font-family="Liberation Serif" font-size="11.2" font-weight="normal" fill="#000">15</text>
<text x="139" y="105.6" font-family="Liberation Serif" font-size="14.4" font-weight="normal" text-anchor="start" fill="#000" >M 196.07</text>
<line x1="327.5" y1="21.5" x2="327.5" y2="181.5" stroke="#333" stroke-width="1" />
<line x1="323.9" y1="181.5" x2="327.2" y2="181.5" stroke="#333" stroke-width="0.9" />
<line x1="325.9" y1="179.5" x2="327.2" y2="179.5" stroke="#333" stroke-width="0.6" />
<line x1="325.9" y1="178.5" x2="327.2" y2="178.5" stroke="#333" stroke-width="0.6" />
<line x1="325.9" y1="176.5" x2="327.2" y2="176.5" stroke="#333" stroke-width="0.6" />
<line x1="325.9" y1="175.5" x2="327.2" y2="175.5" stroke="#333" stroke-width="0.6" />
<line x1="325" y1="173.5" x2="327.2" y2="173.5" stroke="#333" stroke-width="0.7" />
<line x1="325.9" y1="171.5" x2="327.2" y2="171.5" stroke="#333" stroke-width="0.6" />
<line x1="325.9" y1="170.5" x2="327.2" y2="170.5" stroke="#333" stroke-width="0.6" />
<line x1="325.9" y1="168.5" x2="327.2" y2="168.5" stroke="#333" stroke-width="0.6" />
<line x1="325.9" y1="167.5" x2="327.2" y2="167.5" stroke="#333" stroke-width="0.6" />
<line x1="323.9" y1="165.5" x2="327.2" y2="165.5" stroke="#333" stroke-width="0.9" />
<line x1="325.9" y1="164.5" x2="327.2" y2="164.5" stroke="#333" stroke-width="0.6" />
<line x1="325.9" y1="162.5" x2="327.2" y2="162.5" stroke="#333" stroke-width="0.6" />
<line x1="325.9" y1="160.5" x2="327.2" y2="160.5" stroke="#333" stroke-width="0.6" />
<line x1="325.9" y1="159.5" x2="327.2" y2="159.5" stroke="#333" stroke-width="0.6" />
<line x1="325" y1="157.5" x2="327.2" y2="157.5" stroke="#333" stroke-width="0.7" />
<line x1="325.9" y1="156.5" x2="327.2" y2="156.5" stroke="#333" stroke-width="0.6" />
<line x1="325.9" y1="154.5" x2="327.2" y2="154.5" stroke="#333" stroke-width="0.6" />
<line x1="325.9" y1="152.5" x2="327.2" y2="152.5" stroke="#333" stroke-width="0.6" />
<line x1="325.9" y1="151.5" x2="327.2" y2="151.5" stroke="#333" stroke-width="0.6" />
<line x1="323.9" y1="149.5" x2="327.2" y2="149.5" stroke="#333" stroke-width="0.9" />
<line x1="325.9" y1="148.5" x2="327.2" y2="148.5" stroke="#333" stroke-width="0.6" />
<line x1="325.9" y1="146.5" x2="327.2" y2="146.5" stroke="#333" stroke-width="0.6" />
<line x1="325.9" y1="144.5" x2="327.2" y2="144.5" stroke="#333" stroke-width="0.6" />
<line x1="325.9" y1="143.5" x2="327.2" y2="143.5" stroke="#333" stroke-width="0.6" />
<line x1="325" y1="141.5" x2="327.2" y2="141.5" stroke="#333" stroke-width="0.7" />
<line x1="325.9" y1="140.5" x2="327.2" y2="140.5" stroke="#333" stroke-width="0.6" />
<line x1="325.9" y1="138.5" x2="327.2" y2="138.5" stroke="#333" stroke-width="0.6" />
<line x1="325.9" y1="137.5" x2="327.2" y2="137.5" stroke="#333" stroke-width="0.6" />
<line x1="325.9" y1="135.5" x2="327.2" y2="135.5" stroke="#333" stroke-width="0.6" />
<line x1="323.9" y1="133.5" x2="327.2" y2="133.5" stroke="#333" stroke-width="0.9" />
<line x1="325.9" y1="132.5" x2="327.2" y2="132.5" stroke="#333" stroke-width="0.6" />
<line x1="325.9" y1="130.5" x2="327.2" y2="130.5" stroke="#333" stroke-width="0.6" />
<line x1="325.9" y1="129.5" x2="327.2" y2="129.5" stroke="#333" stroke-width="0.6" />
<line x1="325.9" y1="127.5" x2="327.2" y2="127.5" stroke="#333" stroke-width="0.6" />
<line x1="325" y1="125.5" x2="327.2" y2="125.5" stroke="#333" stroke-width="0.7" />
<line x1="325.9" y1="124.5" x2="327.2" y2="124.5" stroke="#333" stroke-width="0.6" />
<line x1="325.9" y1="122.5" x2="327.2" y2="122.5" stroke="#333" stroke-width="0.6" />
<line x1="325.9" y1="121.5" x2="327.2" y2="121.5" stroke="#333" stroke-width="0.6" />
<line x1="325.9" y1="119.5" x2="327.2" y2="119.5" stroke="#333" stroke-width="0.6" />
<line x1="323.9" y1="117.5" x2="327.2" y2="117.5" stroke="#333" stroke-width="0.9" />
<line x1="325.9" y1="116.5" x2="327.2" y2="116.5" stroke="#333" stroke-width="0.6" />
<line x1="325.9" y1="114.5" x2="327.2" y2="114.5" stroke="#333" stroke-width="0.6" />
<line x1="325.9" y1="113.5" x2="327.2" y2="113.5" stroke="#333" stroke-width="0.6" />
<line x1="325.9" y1="111.5" x2="327.2" y2="111.5" stroke="#333" stroke-width="0.6" />
<line x1="325" y1="110.5" x2="327.2" y2="110.5" stroke="#333" stroke-width="0.7" />
<line x1="325.9" y1="108.5" x2="327.2" y2="108.5" stroke="#333" stroke-width="0.6" />
<line x1="325.9" y1="106.5" x2="327.2" y2="106.5" stroke="#333" stroke-width="0.6" />
<line x1="325.9" y1="105.5" x2="327.2" y2="105.5" stroke="#333" stroke-width="0.6" />
<line x1="325.9" y1="103.5" x2="327.2" y2="103.5" stroke="#333" stroke-width="0.6" />
<line x1="323.9" y1="102.5" x2="327.2" y2="102.5" stroke="#333" stroke-width="0.9" />
<line x1="325.9" y1="100.5" x2="327.2" y2="100.5" stroke="#333" stroke-width="0.6" />
<line x1="325.9" y1="98.5" x2="327.2" y2="98.5" stroke="#333" stroke-width="0.6" />
<line x1="325.9" y1="97.5" x2="327.2" y2="97.5" stroke="#333" stroke-width="0.6" />
<line x1="325.9" y1="95.5" x2="327.2" y2="95.5" stroke="#333" stroke-width="0.6" />
<line x1="325" y1="94.5" x2="327.2" y2="94.5" stroke="#333" stroke-width="0.7" />
<line x1="325.9" y1="92.5" x2="327.2" y2="92.5" stroke="#333" stroke-width="0.6" />
<line x1="325.9" y1="90.5" x2="327.2" y2="90.5" stroke="#333" stroke-width="0.6" />
<line x1="325.9" y1="89.5" x2="327.2" y2="89.5" stroke="#333" stroke-width="0.6" />
<line x1="325.9" y1="87.5" x2="327.2" y2="87.5" stroke="#333" stroke-width="0.6" />
<line x1="323.9" y1="86.5" x2="327.2" y2="86.5" stroke="#333" stroke-width="0.9" />
<line x1="325.9" y1="84.5" x2="327.2" y2="84.5" stroke="#333" stroke-width="0.6" />
<line x1="325.9" y1="83.5" x2="327.2" y2="83.5" stroke="#333" stroke-width="0.6" />
<line x1="325.9" y1="81.5" x2="327.2" y2="81.5" stroke="#333" stroke-width="0.6" />
<line x1="325.9" y1="79.5" x2="327.2" y2="79.5" stroke="#333" stroke-width="0.6" />
<line x1="325" y1="78.5" x2="327.2" y2="78.5" stroke="#333" stroke-width="0.7" />
<line x1="325.9" y1="76.5" x2="327.2" y2="76.5" stroke="#333" stroke-width="0.6" />
<line x1="325.9" y1="75.5" x2="327.2" y2="75.5" stroke="#333" stroke-width="0.6" />
<line x1="325.9" y1="73.5" x2="327.2" y2="73.5" stroke="#333" stroke-width="0.6" />
<line x1="325.9" y1="71.5" x2="327.2" y2="71.5" stroke="#333" stroke-width="0.6" />
<line x1="323.9" y1="70.5" x2="327.2" y2="70.5" stroke="#333" stroke-width="0.9" />
<line x1="325.9" y1="68.5" x2="327.2" y2="68.5" stroke="#333" stroke-width="0.6" />
<line x1="325.9" y1="67.5" x2="327.2" y2="67.5" stroke="#333" stroke-width="0.6" />
<line x1="325.9" y1="65.5" x2="327.2" y2="65.5" stroke="#333" stroke-width="0.6" />
<line x1="325.9" y1="63.5" x2="327.2" y2="63.5" stroke="#333" stroke-width="0.6" />
<line x1="325" y1="62.5" x2="327.2" y2="62.5" stroke="#333" stroke-width="0.7" />
<line x1="325.9" y1="60.5" x2="327.2" y2="60.5" stroke="#333" stroke-width="0.6" />
<line x1="325.9" y1="59.5" x2="327.2" y2="59.5" stroke="#333" stroke-width="0.6" />
<line x1="325.9" y1="57.5" x2="327.2" y2="57.5" stroke="#333" stroke-width="0.6" />
<line x1="325.9" y1="56.5" x2="327.2" y2="56.5" stroke="#333" stroke-width="0.6" />
<line x1="323.9" y1="54.5" x2="327.2" y2="54.5" stroke="#333" stroke-width="0.9" />
<line x1="325.9" y1="52.5" x2="327.2" y2="52.5" stroke="#333" stroke-width="0.6" />
<line x1="325.9" y1="51.5" x2="327.2" y2="51.5" stroke="#333" stroke-width="0.6" />
<line x1="325.9" y1="49.5" x2="327.2" y2="49.5" stroke="#333" stroke-width="0.6" />
<line x1="325.9" y1="48.5" x2="327.2" y2="48.5" stroke="#333" stroke-width="0.6" />
<line x1="325" y1="46.5" x2="327.2" y2="46.5" stroke="#333" stroke-width="0.7" />
<line x1="325.9" y1="44.5" x2="327.2" y2="44.5" stroke="#333" stroke-width="0.6" />
<line x1="325.9" y1="43.5" x2="327.2" y2="43.5" stroke="#333" stroke-width="0.6" />
<line x1="325.9" y1="41.5" x2="327.2" y2="41.5" stroke="#333" stroke-width="0.6" />
<line x1="325.9" y1="40.5" x2="327.2" y2="40.5" stroke="#333" stroke-width="0.6" />
<line x1="323.9" y1="38.5" x2="327.2" y2="38.5" stroke="#333" stroke-width="0.9" />
<line x1="325.9" y1="36.5" x2="327.2" y2="36.5" stroke="#333" stroke-width="0.6" />
<line x1="325.9" y1="35.5" x2="327.2" y2="35.5" stroke="#333" stroke-width="0.6" />
<line x1="325.9" y1="33.5" x2="327.2" y2="33.5" stroke="#333" stroke-width="0.6" />
<line x1="325.9" y1="32.5" x2="327.2" y2="32.5" stroke="#333" stroke-width="0.6" />
<line x1="325" y1="30.5" x2="327.2" y2="30.5" stroke="#333" stroke-width="0.7" />
<line x1="325.9" y1="29.5" x2="327.2" y2="29.5" stroke="#333" stroke-width="0.6" />
<line x1="325.9" y1="27.5" x2="327.2" y2="27.5" stroke="#333" stroke-width="0.6" />
<line x1="325.9" y1="25.5" x2="327.2" y2="25.5" stroke="#333" stroke-width="0.6" />
<line x1="325.9" y1="24.5" x2="327.2" y2="24.5" stroke="#333" stroke-width="0.6" />
<line x1="323.9" y1="22.5" x2="327.2" y2="22.5" stroke="#333" stroke-width="0.9" />
<text x="323.5" y="184" font-family="Liberation Mono" font-size="7.2" font-weight="bold" text-anchor="end" fill="#303030" >0</text>
<text x="323.5" y="168.12" font-family="Liberation Mono" font-size="7.2" font-weight="bold" text-anchor="end" fill="#303030" >10</text>
<text x="323.5" y="152.24" font-family="Liberation Mono" font-size="7.2" font-weight="bold" text-anchor="end" fill="#303030" >20</text>
<text x="323.5" y="136.36" font-family="Liberation Mono" font-size="7.2" font-weight="bold" text-anchor="end" fill="#303030" >30</text>
<text x="323.5" y="120.48" font-family="Liberation Mono" font-size="7.2" font-weight="bold" text-anchor="end" fill="#303030" >40</text>
<text x="323.5" y="104.6" font-family="Liberation Mono" font-size="7.2" font-weight="bold" text-anchor="end" fill="#303030" >50</text>
<text x="323.5" y="88.72" font-family="Liberation Mono" font-size="7.2" font-weight="bold" text-anchor="end" fill="#303030" >60</text>
<text x="323.5" y="72.84" font-family="Liberation Mono" font-size="7.2" font-weight="bold" text-anchor="end" fill="#303030" >70</text>
<text x="323.5" y="56.96" font-family="Liberation Mono" font-size="7.2" font-weight="bold" text-anchor="end" fill="#303030" >80</text>
<text x="323.5" y="41.08" font-family="Liberation Mono" font-size="7.2" font-weight="bold" text-anchor="end" fill="#303030" >90</text>
<text x="323.5" y="25.2" font-family="Liberation Mono" font-size="7.2" font-weight="bold" text-anchor="end" fill="#303030" >100</text>
<line x1="327.2" y1="181.5" x2="575.2" y2="181.5" stroke="#333" stroke-width="1" />
<line x1="327.5" y1="181.5" x2="327.5" y2="184.5" stroke="#333" stroke-width="0.9" />
<line x1="333.5" y1="181.5" x2="333.5" y2="183" stroke="#333" stroke-width="0.7" />
<line x1="340.5" y1="181.5" x2="340.5" y2="183" stroke="#333" stroke-width="0.7" />
<line x1="346.5" y1="181.5" x2="346.5" y2="183" stroke="#333" stroke-width="0.7" />
<line x1="353.5" y1="181.5" x2="353.5" y2="183" stroke="#333" stroke-width="0.7" />
<line x1="359.5" y1="181.5" x2="359.5" y2="184.5" stroke="#333" stroke-width="0.9" />
<line x1="366.5" y1="181.5" x2="366.5" y2="183" stroke="#333" stroke-width="0.7" />
<line x1="372.5" y1="181.5" x2="372.5" y2="183" stroke="#333" stroke-width="0.7" />
<line x1="379.5" y1="181.5" x2="379.5" y2="183" stroke="#333" stroke-width="0.7" />
<line x1="385.5" y1="181.5" x2="385.5" y2="183" stroke="#333" stroke-width="0.7" />
<line x1="392.5" y1="181.5" x2="392.5" y2="184.5" stroke="#333" stroke-width="0.9" />
<line x1="398.5" y1="181.5" x2="398.5" y2="183" stroke="#333" stroke-width="0.7" />
<line x1="405.5" y1="181.5" x2="405.5" y2="183" stroke="#333" stroke-width="0.7" />
<line x1="411.5" y1="181.5" x2="411.5" y2="183" stroke="#333" stroke-width="0.7" />
<line x1="418.5" y1="181.5" x2="418.5" y2="183" stroke="#333" stroke-width="0.7" />
<line x1="425.5" y1="181.5" x2="425.5" y2="184.5" stroke="#333" stroke-width="0.9" />
<line x1="431.5" y1="181.5" x2="431.5" y2="183" stroke="#333" stroke-width="0.7" />
<line x1="438.5" y1="181.5" x2="438.5" y2="183" stroke="#333" stroke-width="0.7" />
<line x1="444.5" y1="181.5" x2="444.5" y2="183" stroke="#333" stroke-width="0.7" />
<line x1="451.5" y1="181.5" x2="451.5" y2="183" stroke="#333" stroke-width="0.7" />
<line x1="457.5" y1="181.5" x2="457.5" y2="184.5" stroke="#333" stroke-width="0.9" />
<line x1="464.5" y1="181.5" x2="464.5" y2="183" stroke="#333" stroke-width="0.7" />
<line x1="470.5" y1="181.5" x2="470.5" y2="183" stroke="#333" stroke-width="0.7" />
<line x1="477.5" y1="181.5" x2="477.5" y2="183" stroke="#333" stroke-width="0.7" />
<line x1="483.5" y1="181.5" x2="483.5" y2="183" stroke="#333" stroke-width="0.7" />
<line x1="490.5" y1="181.5" x2="490.5" y2="184.5" stroke="#333" stroke-width="0.9" />
<line x1="496.5" y1="181.5" x2="496.5" y2="183" stroke="#333" stroke-width="0.7" />
<line x1="503.5" y1="181.5" x2="503.5" y2="183" stroke="#333" stroke-width="0.7" />
<line x1="509.5" y1="181.5" x2="509.5" y2="183" stroke="#333" stroke-width="0.7" />
<line x1="516.5" y1="181.5" x2="516.5" y2="183" stroke="#333" stroke-width="0.7" />
<line x1="522.5" y1="181.5" x2="522.5" y2="184.5" stroke="#333" stroke-width="0.9" />
<line x1="529.5" y1="181.5" x2="529.5" y2="183" stroke="#333" stroke-width="0.7" />
<line x1="535.5" y1="181.5" x2="535.5" y2="183" stroke="#333" stroke-width="0.7" />
<line x1="542.5" y1="181.5" x2="542.5" y2="183" stroke="#333" stroke-width="0.7" />
<line x1="548.5" y1="181.5" x2="548.5" y2="183" stroke="#333" stroke-width="0.7" />
<line x1="555.5" y1="181.5" x2="555.5" y2="184.5" stroke="#333" stroke-width="0.9" />
<line x1="561.5" y1="181.5" x2="561.5" y2="183" stroke="#333" stroke-width="0.7" />
<line x1="568.5" y1="181.5" x2="568.5" y2="183" stroke="#333" stroke-width="0.7" />
<line x1="574.5" y1="181.5" x2="574.5" y2="183" stroke="#333" stroke-width="0.7" />
<text x="327.2" y="190.8" font-family="Liberation Mono" font-size="7.4" font-weight="bold" text-anchor="middle" fill="#303030" >100.00</text>
<text x="392.4" y="190.8" font-family="Liberation Mono" font-size="7.4" font-weight="bold" text-anchor="middle" fill="#303030" >200.00</text>
<text x="457.6" y="190.8" font-family="Liberation Mono" font-size="7.4" font-weight="bold" text-anchor="middle" fill="#303030" >300.00</text>
<text x="522.8" y="190.8" font-family="Liberation Mono" font-size="7.4" font-weight="bold" text-anchor="middle" fill="#303030" >400.00</text>
<text x="303.5" y="4.3" font-family="Liberation Mono" font-size="7.3" font-weight="bold" text-anchor="start" fill="#303030" >(Time: 1.18)</text>
<line x1="337.5" y1="181.5" x2="337.5" y2="178.2" stroke="#707070" stroke-width="0.9" />
<line x1="339.5" y1="181.5" x2="339.5" y2="175.8" stroke="#707070" stroke-width="0.9" />
<line x1="345.5" y1="181.5" x2="345.5" y2="157.5" stroke="#707070" stroke-width="0.9" />
<line x1="347.5" y1="181.5" x2="347.5" y2="169.2" stroke="#707070" stroke-width="0.9" />
<line x1="352.5" y1="181.5" x2="352.5" y2="175" stroke="#707070" stroke-width="0.9" />
<line x1="355.5" y1="181.5" x2="355.5" y2="176.8" stroke="#707070" stroke-width="0.9" />
<line x1="364.5" y1="181.5" x2="364.5" y2="177.2" stroke="#707070" stroke-width="0.9" />
<line x1="366.5" y1="181.5" x2="366.5" y2="177.2" stroke="#707070" stroke-width="0.9" />
<line x1="367.5" y1="181.5" x2="367.5" y2="178.2" stroke="#707070" stroke-width="0.9" />
<line x1="369.5" y1="181.5" x2="369.5" y2="176.8" stroke="#707070" stroke-width="0.9" />
<line x1="375.5" y1="181.5" x2="375.5" y2="175.8" stroke="#707070" stroke-width="0.9" />
<line x1="376.5" y1="181.5" x2="376.5" y2="164.1" stroke="#707070" stroke-width="0.9" />
<line x1="377.5" y1="181.5" x2="377.5" y2="161.2" stroke="#707070" stroke-width="0.9" />
<line x1="385.5" y1="181.5" x2="385.5" y2="175.8" stroke="#707070" stroke-width="0.9" />
<line x1="393.5" y1="181.5" x2="393.5" y2="177.7" stroke="#707070" stroke-width="0.9" />
<line x1="394.5" y1="181.5" x2="394.5" y2="177.7" stroke="#707070" stroke-width="0.9" />
<line x1="402.5" y1="181.5" x2="402.5" y2="173.6" stroke="#707070" stroke-width="0.9" />
<line x1="408.5" y1="181.5" x2="408.5" y2="178.2" stroke="#707070" stroke-width="0.9" />
<line x1="413.5" y1="181.5" x2="413.5" y2="178.7" stroke="#707070" stroke-width="0.9" />
<line x1="414.5" y1="181.5" x2="414.5" y2="178.7" stroke="#707070" stroke-width="0.9" />
<line x1="416.5" y1="181.5" x2="416.5" y2="178.2" stroke="#707070" stroke-width="0.9" />
<line x1="433.5" y1="181.5" x2="433.5" y2="178.2" stroke="#707070" stroke-width="0.9" />
<line x1="467.5" y1="181.5" x2="467.5" y2="177" stroke="#707070" stroke-width="0.9" />
<polyline points="338.5,181.5 338.5,22.6 342.6,18.7" fill="none" stroke="#444" stroke-width="0.9" stroke-linejoin="round" />
<polyline points="344.6,181.5 344.6,149 349,145.4" fill="none" stroke="#444" stroke-width="0.9" stroke-linejoin="round" />
<polyline points="346.3,181.5 346.3,158.2 350.7,155.6" fill="none" stroke="#444" stroke-width="0.9" stroke-linejoin="round" />
<line x1="389.5" y1="181.5" x2="389.5" y2="131.7" stroke="#444" stroke-width="0.9" />
<polyline points="403.4,181.5 403.4,170.5 406.3,167.4" fill="none" stroke="#444" stroke-width="0.9" stroke-linejoin="round" />
<polyline points="453,181.5 453,174.4 456.8,170.7" fill="none" stroke="#444" stroke-width="0.9" stroke-linejoin="round" />
<polyline points="487.5,181.5 487.5,178.2 492,174" fill="none" stroke="#444" stroke-width="0.9" stroke-linejoin="round" />
<line x1="551.5" y1="181.5" x2="551.5" y2="178.2" stroke="#444" stroke-width="0.9" />
<rect x="574.3" y="186" width="1.2" height="3" fill="#f3d3a0"/><rect x="574.3" y="189.6" width="1.2" height="1" fill="#f3d3a0"/>
<rect x="338" y="11.7" width="14.3" height="7" fill="#9ccc2a"/>
<text x="338.2" y="17.6" font-family="Liberation Mono" font-size="7.6" font-weight="bold" text-anchor="start" fill="#303030" >116.9155</text>
<text x="345" y="143.4" font-family="Liberation Mono" font-size="7.5" font-weight="bold" text-anchor="start" fill="#303030" >126.8034</text>
<text x="350.7" y="156.7" font-family="Liberation Mono" font-size="7.5" font-weight="bold" text-anchor="start" fill="#303030" >128.8442</text>
<text x="389" y="129.1" font-family="Liberation Mono" font-size="7.4" font-weight="bold" text-anchor="middle" fill="#303030" >194.8951</text>
<text x="403.8" y="164.8" font-family="Liberation Mono" font-size="7.5" font-weight="bold" text-anchor="start" fill="#303030" >216.9416</text>
<text x="453.6" y="168.8" font-family="Liberation Mono" font-size="7.5" font-weight="bold" text-anchor="start" fill="#303030" >292.9064</text>
<text x="492" y="176.2" font-family="Liberation Mono" font-size="7.5" font-weight="bold" text-anchor="start" fill="#303030" >345.8625</text>
<text x="533" y="176.2" font-family="Liberation Mono" font-size="7.5" font-weight="bold" text-anchor="start" fill="#303030" >443.8084</text>
<text x="356.7" y="48.1" font-family="Liberation Serif" font-size="14.35" font-weight="bold" text-anchor="start" fill="#000" >ES- Rt 1.18 (4)</text>
<text x="441.5" y="80.5" font-family="Liberation Sans" font-size="14.6" font-weight="normal" text-anchor="start" fill="#000" >HOOC</text>
<line x1="484.6" y1="72.6" x2="498.4" y2="64.1" stroke="#000" stroke-width="1.3" />
<line x1="498.4" y1="64.1" x2="517.1" y2="76.2" stroke="#000" stroke-width="1.3" />
<line x1="497.6" y1="68.6" x2="514.8" y2="79.7" stroke="#000" stroke-width="1.3" />
<line x1="517.1" y1="76.2" x2="530.2" y2="68.4" stroke="#000" stroke-width="1.3" />
<text x="531.3" y="70" font-family="Liberation Sans" font-size="14.6" font-weight="normal" text-anchor="start" fill="#000" >COOH</text>
<text x="460.6" y="103.5" font-family="Liberation Serif" font-size="14.4" font-weight="normal" text-anchor="start" fill="#000" >Fumaric acid</text>
<text x="470.4" y="120.1" font-family="Liberation Serif" font-size="14.4" font-weight="normal" text-anchor="start" fill="#000" >M 116.01</text>
<line x1="23.5" y1="362.5" x2="23.5" y2="523.8" stroke="#333" stroke-width="1" />
<line x1="19.7" y1="523.5" x2="23" y2="523.5" stroke="#333" stroke-width="0.9" />
<line x1="21.7" y1="522.5" x2="23" y2="522.5" stroke="#333" stroke-width="0.6" />
<line x1="21.7" y1="520.5" x2="23" y2="520.5" stroke="#333" stroke-width="0.6" />
<line x1="21.7" y1="518.5" x2="23" y2="518.5" stroke="#333" stroke-width="0.6" />
<line x1="21.7" y1="517.5" x2="23" y2="517.5" stroke="#333" stroke-width="0.6" />
<line x1="20.8" y1="515.5" x2="23" y2="515.5" stroke="#333" stroke-width="0.7" />
<line x1="21.7" y1="514.5" x2="23" y2="514.5" stroke="#333" stroke-width="0.6" />
<line x1="21.7" y1="512.5" x2="23" y2="512.5" stroke="#333" stroke-width="0.6" />
<line x1="21.7" y1="510.5" x2="23" y2="510.5" stroke="#333" stroke-width="0.6" />
<line x1="21.7" y1="509.5" x2="23" y2="509.5" stroke="#333" stroke-width="0.6" />
<line x1="19.7" y1="507.5" x2="23" y2="507.5" stroke="#333" stroke-width="0.9" />
<line x1="21.7" y1="506.5" x2="23" y2="506.5" stroke="#333" stroke-width="0.6" />
<line x1="21.7" y1="504.5" x2="23" y2="504.5" stroke="#333" stroke-width="0.6" />
<line x1="21.7" y1="502.5" x2="23" y2="502.5" stroke="#333" stroke-width="0.6" />
<line x1="21.7" y1="501.5" x2="23" y2="501.5" stroke="#333" stroke-width="0.6" />
<line x1="20.8" y1="499.5" x2="23" y2="499.5" stroke="#333" stroke-width="0.7" />
<line x1="21.7" y1="498.5" x2="23" y2="498.5" stroke="#333" stroke-width="0.6" />
<line x1="21.7" y1="496.5" x2="23" y2="496.5" stroke="#333" stroke-width="0.6" />
<line x1="21.7" y1="494.5" x2="23" y2="494.5" stroke="#333" stroke-width="0.6" />
<line x1="21.7" y1="493.5" x2="23" y2="493.5" stroke="#333" stroke-width="0.6" />
<line x1="19.7" y1="491.5" x2="23" y2="491.5" stroke="#333" stroke-width="0.9" />
<line x1="21.7" y1="490.5" x2="23" y2="490.5" stroke="#333" stroke-width="0.6" />
<line x1="21.7" y1="488.5" x2="23" y2="488.5" stroke="#333" stroke-width="0.6" />
<line x1="21.7" y1="486.5" x2="23" y2="486.5" stroke="#333" stroke-width="0.6" />
<line x1="21.7" y1="485.5" x2="23" y2="485.5" stroke="#333" stroke-width="0.6" />
<line x1="20.8" y1="483.5" x2="23" y2="483.5" stroke="#333" stroke-width="0.7" />
<line x1="21.7" y1="482.5" x2="23" y2="482.5" stroke="#333" stroke-width="0.6" />
<line x1="21.7" y1="480.5" x2="23" y2="480.5" stroke="#333" stroke-width="0.6" />
<line x1="21.7" y1="478.5" x2="23" y2="478.5" stroke="#333" stroke-width="0.6" />
<line x1="21.7" y1="477.5" x2="23" y2="477.5" stroke="#333" stroke-width="0.6" />
<line x1="19.7" y1="475.5" x2="23" y2="475.5" stroke="#333" stroke-width="0.9" />
<line x1="21.7" y1="474.5" x2="23" y2="474.5" stroke="#333" stroke-width="0.6" />
<line x1="21.7" y1="472.5" x2="23" y2="472.5" stroke="#333" stroke-width="0.6" />
<line x1="21.7" y1="470.5" x2="23" y2="470.5" stroke="#333" stroke-width="0.6" />
<line x1="21.7" y1="469.5" x2="23" y2="469.5" stroke="#333" stroke-width="0.6" />
<line x1="20.8" y1="467.5" x2="23" y2="467.5" stroke="#333" stroke-width="0.7" />
<line x1="21.7" y1="466.5" x2="23" y2="466.5" stroke="#333" stroke-width="0.6" />
<line x1="21.7" y1="464.5" x2="23" y2="464.5" stroke="#333" stroke-width="0.6" />
<line x1="21.7" y1="462.5" x2="23" y2="462.5" stroke="#333" stroke-width="0.6" />
<line x1="21.7" y1="461.5" x2="23" y2="461.5" stroke="#333" stroke-width="0.6" />
<line x1="19.7" y1="459.5" x2="23" y2="459.5" stroke="#333" stroke-width="0.9" />
<line x1="21.7" y1="458.5" x2="23" y2="458.5" stroke="#333" stroke-width="0.6" />
<line x1="21.7" y1="456.5" x2="23" y2="456.5" stroke="#333" stroke-width="0.6" />
<line x1="21.7" y1="454.5" x2="23" y2="454.5" stroke="#333" stroke-width="0.6" />
<line x1="21.7" y1="453.5" x2="23" y2="453.5" stroke="#333" stroke-width="0.6" />
<line x1="20.8" y1="451.5" x2="23" y2="451.5" stroke="#333" stroke-width="0.7" />
<line x1="21.7" y1="450.5" x2="23" y2="450.5" stroke="#333" stroke-width="0.6" />
<line x1="21.7" y1="448.5" x2="23" y2="448.5" stroke="#333" stroke-width="0.6" />
<line x1="21.7" y1="446.5" x2="23" y2="446.5" stroke="#333" stroke-width="0.6" />
<line x1="21.7" y1="445.5" x2="23" y2="445.5" stroke="#333" stroke-width="0.6" />
<line x1="19.7" y1="443.5" x2="23" y2="443.5" stroke="#333" stroke-width="0.9" />
<line x1="21.7" y1="442.5" x2="23" y2="442.5" stroke="#333" stroke-width="0.6" />
<line x1="21.7" y1="440.5" x2="23" y2="440.5" stroke="#333" stroke-width="0.6" />
<line x1="21.7" y1="438.5" x2="23" y2="438.5" stroke="#333" stroke-width="0.6" />
<line x1="21.7" y1="437.5" x2="23" y2="437.5" stroke="#333" stroke-width="0.6" />
<line x1="20.8" y1="435.5" x2="23" y2="435.5" stroke="#333" stroke-width="0.7" />
<line x1="21.7" y1="434.5" x2="23" y2="434.5" stroke="#333" stroke-width="0.6" />
<line x1="21.7" y1="432.5" x2="23" y2="432.5" stroke="#333" stroke-width="0.6" />
<line x1="21.7" y1="430.5" x2="23" y2="430.5" stroke="#333" stroke-width="0.6" />
<line x1="21.7" y1="429.5" x2="23" y2="429.5" stroke="#333" stroke-width="0.6" />
<line x1="19.7" y1="427.5" x2="23" y2="427.5" stroke="#333" stroke-width="0.9" />
<line x1="21.7" y1="426.5" x2="23" y2="426.5" stroke="#333" stroke-width="0.6" />
<line x1="21.7" y1="424.5" x2="23" y2="424.5" stroke="#333" stroke-width="0.6" />
<line x1="21.7" y1="422.5" x2="23" y2="422.5" stroke="#333" stroke-width="0.6" />
<line x1="21.7" y1="421.5" x2="23" y2="421.5" stroke="#333" stroke-width="0.6" />
<line x1="20.8" y1="419.5" x2="23" y2="419.5" stroke="#333" stroke-width="0.7" />
<line x1="21.7" y1="418.5" x2="23" y2="418.5" stroke="#333" stroke-width="0.6" />
<line x1="21.7" y1="416.5" x2="23" y2="416.5" stroke="#333" stroke-width="0.6" />
<line x1="21.7" y1="414.5" x2="23" y2="414.5" stroke="#333" stroke-width="0.6" />
<line x1="21.7" y1="413.5" x2="23" y2="413.5" stroke="#333" stroke-width="0.6" />
<line x1="19.7" y1="411.5" x2="23" y2="411.5" stroke="#333" stroke-width="0.9" />
<line x1="21.7" y1="410.5" x2="23" y2="410.5" stroke="#333" stroke-width="0.6" />
<line x1="21.7" y1="408.5" x2="23" y2="408.5" stroke="#333" stroke-width="0.6" />
<line x1="21.7" y1="406.5" x2="23" y2="406.5" stroke="#333" stroke-width="0.6" />
<line x1="21.7" y1="405.5" x2="23" y2="405.5" stroke="#333" stroke-width="0.6" />
<line x1="20.8" y1="403.5" x2="23" y2="403.5" stroke="#333" stroke-width="0.7" />
<line x1="21.7" y1="402.5" x2="23" y2="402.5" stroke="#333" stroke-width="0.6" />
<line x1="21.7" y1="400.5" x2="23" y2="400.5" stroke="#333" stroke-width="0.6" />
<line x1="21.7" y1="398.5" x2="23" y2="398.5" stroke="#333" stroke-width="0.6" />
<line x1="21.7" y1="397.5" x2="23" y2="397.5" stroke="#333" stroke-width="0.6" />
<line x1="19.7" y1="395.5" x2="23" y2="395.5" stroke="#333" stroke-width="0.9" />
<line x1="21.7" y1="394.5" x2="23" y2="394.5" stroke="#333" stroke-width="0.6" />
<line x1="21.7" y1="392.5" x2="23" y2="392.5" stroke="#333" stroke-width="0.6" />
<line x1="21.7" y1="390.5" x2="23" y2="390.5" stroke="#333" stroke-width="0.6" />
<line x1="21.7" y1="389.5" x2="23" y2="389.5" stroke="#333" stroke-width="0.6" />
<line x1="20.8" y1="387.5" x2="23" y2="387.5" stroke="#333" stroke-width="0.7" />
<line x1="21.7" y1="386.5" x2="23" y2="386.5" stroke="#333" stroke-width="0.6" />
<line x1="21.7" y1="384.5" x2="23" y2="384.5" stroke="#333" stroke-width="0.6" />
<line x1="21.7" y1="382.5" x2="23" y2="382.5" stroke="#333" stroke-width="0.6" />
<line x1="21.7" y1="381.5" x2="23" y2="381.5" stroke="#333" stroke-width="0.6" />
<line x1="19.7" y1="379.5" x2="23" y2="379.5" stroke="#333" stroke-width="0.9" />
<line x1="21.7" y1="378.5" x2="23" y2="378.5" stroke="#333" stroke-width="0.6" />
<line x1="21.7" y1="376.5" x2="23" y2="376.5" stroke="#333" stroke-width="0.6" />
<line x1="21.7" y1="374.5" x2="23" y2="374.5" stroke="#333" stroke-width="0.6" />
<line x1="21.7" y1="373.5" x2="23" y2="373.5" stroke="#333" stroke-width="0.6" />
<line x1="20.8" y1="371.5" x2="23" y2="371.5" stroke="#333" stroke-width="0.7" />
<line x1="21.7" y1="370.5" x2="23" y2="370.5" stroke="#333" stroke-width="0.6" />
<line x1="21.7" y1="368.5" x2="23" y2="368.5" stroke="#333" stroke-width="0.6" />
<line x1="21.7" y1="366.5" x2="23" y2="366.5" stroke="#333" stroke-width="0.6" />
<line x1="21.7" y1="365.5" x2="23" y2="365.5" stroke="#333" stroke-width="0.6" />
<line x1="19.7" y1="363.5" x2="23" y2="363.5" stroke="#333" stroke-width="0.9" />
<text x="19.8" y="526.1" font-family="Liberation Mono" font-size="6.6" font-weight="bold" text-anchor="end" fill="#303030" >0</text>
<text x="19.8" y="510.08" font-family="Liberation Mono" font-size="6.6" font-weight="bold" text-anchor="end" fill="#303030" >10</text>
<text x="19.8" y="494.06" font-family="Liberation Mono" font-size="6.6" font-weight="bold" text-anchor="end" fill="#303030" >20</text>
<text x="19.8" y="478.04" font-family="Liberation Mono" font-size="6.6" font-weight="bold" text-anchor="end" fill="#303030" >30</text>
<text x="19.8" y="462.02" font-family="Liberation Mono" font-size="6.6" font-weight="bold" text-anchor="end" fill="#303030" >40</text>
<text x="19.8" y="446" font-family="Liberation Mono" font-size="6.6" font-weight="bold" text-anchor="end" fill="#303030" >50</text>
<text x="19.8" y="429.98" font-family="Liberation Mono" font-size="6.6" font-weight="bold" text-anchor="end" fill="#303030" >60</text>
<text x="19.8" y="413.96" font-family="Liberation Mono" font-size="6.6" font-weight="bold" text-anchor="end" fill="#303030" >70</text>
<text x="19.8" y="397.94" font-family="Liberation Mono" font-size="6.6" font-weight="bold" text-anchor="end" fill="#303030" >80</text>
<text x="19.8" y="381.92" font-family="Liberation Mono" font-size="6.6" font-weight="bold" text-anchor="end" fill="#303030" >90</text>
<text x="19.8" y="365.9" font-family="Liberation Mono" font-size="6.6" font-weight="bold" text-anchor="end" fill="#303030" >100</text>
<line x1="23" y1="523.5" x2="272.6" y2="523.5" stroke="#333" stroke-width="1" />
<line x1="23.5" y1="523.8" x2="23.5" y2="526.6" stroke="#333" stroke-width="0.9" />
<line x1="29.5" y1="523.8" x2="29.5" y2="525.2" stroke="#333" stroke-width="0.7" />
<line x1="35.5" y1="523.8" x2="35.5" y2="525.2" stroke="#333" stroke-width="0.7" />
<line x1="40.5" y1="523.8" x2="40.5" y2="525.2" stroke="#333" stroke-width="0.7" />
<line x1="46.5" y1="523.8" x2="46.5" y2="525.2" stroke="#333" stroke-width="0.7" />
<line x1="52.5" y1="523.8" x2="52.5" y2="526.6" stroke="#333" stroke-width="0.9" />
<line x1="58.5" y1="523.8" x2="58.5" y2="525.2" stroke="#333" stroke-width="0.7" />
<line x1="64.5" y1="523.8" x2="64.5" y2="525.2" stroke="#333" stroke-width="0.7" />
<line x1="70.5" y1="523.8" x2="70.5" y2="525.2" stroke="#333" stroke-width="0.7" />
<line x1="75.5" y1="523.8" x2="75.5" y2="525.2" stroke="#333" stroke-width="0.7" />
<line x1="81.5" y1="523.8" x2="81.5" y2="526.6" stroke="#333" stroke-width="0.9" />
<line x1="87.5" y1="523.8" x2="87.5" y2="525.2" stroke="#333" stroke-width="0.7" />
<line x1="93.5" y1="523.8" x2="93.5" y2="525.2" stroke="#333" stroke-width="0.7" />
<line x1="99.5" y1="523.8" x2="99.5" y2="525.2" stroke="#333" stroke-width="0.7" />
<line x1="105.5" y1="523.8" x2="105.5" y2="525.2" stroke="#333" stroke-width="0.7" />
<line x1="111.5" y1="523.8" x2="111.5" y2="526.6" stroke="#333" stroke-width="0.9" />
<line x1="116.5" y1="523.8" x2="116.5" y2="525.2" stroke="#333" stroke-width="0.7" />
<line x1="122.5" y1="523.8" x2="122.5" y2="525.2" stroke="#333" stroke-width="0.7" />
<line x1="128.5" y1="523.8" x2="128.5" y2="525.2" stroke="#333" stroke-width="0.7" />
<line x1="134.5" y1="523.8" x2="134.5" y2="525.2" stroke="#333" stroke-width="0.7" />
<line x1="140.5" y1="523.8" x2="140.5" y2="526.6" stroke="#333" stroke-width="0.9" />
<line x1="146.5" y1="523.8" x2="146.5" y2="525.2" stroke="#333" stroke-width="0.7" />
<line x1="151.5" y1="523.8" x2="151.5" y2="525.2" stroke="#333" stroke-width="0.7" />
<line x1="157.5" y1="523.8" x2="157.5" y2="525.2" stroke="#333" stroke-width="0.7" />
<line x1="163.5" y1="523.8" x2="163.5" y2="525.2" stroke="#333" stroke-width="0.7" />
<line x1="169.5" y1="523.8" x2="169.5" y2="526.6" stroke="#333" stroke-width="0.9" />
<line x1="175.5" y1="523.8" x2="175.5" y2="525.2" stroke="#333" stroke-width="0.7" />
<line x1="181.5" y1="523.8" x2="181.5" y2="525.2" stroke="#333" stroke-width="0.7" />
<line x1="186.5" y1="523.8" x2="186.5" y2="525.2" stroke="#333" stroke-width="0.7" />
<line x1="192.5" y1="523.8" x2="192.5" y2="525.2" stroke="#333" stroke-width="0.7" />
<line x1="198.5" y1="523.8" x2="198.5" y2="526.6" stroke="#333" stroke-width="0.9" />
<line x1="204.5" y1="523.8" x2="204.5" y2="525.2" stroke="#333" stroke-width="0.7" />
<line x1="210.5" y1="523.8" x2="210.5" y2="525.2" stroke="#333" stroke-width="0.7" />
<line x1="216.5" y1="523.8" x2="216.5" y2="525.2" stroke="#333" stroke-width="0.7" />
<line x1="221.5" y1="523.8" x2="221.5" y2="525.2" stroke="#333" stroke-width="0.7" />
<line x1="227.5" y1="523.8" x2="227.5" y2="526.6" stroke="#333" stroke-width="0.9" />
<line x1="233.5" y1="523.8" x2="233.5" y2="525.2" stroke="#333" stroke-width="0.7" />
<line x1="239.5" y1="523.8" x2="239.5" y2="525.2" stroke="#333" stroke-width="0.7" />
<line x1="245.5" y1="523.8" x2="245.5" y2="525.2" stroke="#333" stroke-width="0.7" />
<line x1="251.5" y1="523.8" x2="251.5" y2="525.2" stroke="#333" stroke-width="0.7" />
<line x1="257.5" y1="523.8" x2="257.5" y2="526.6" stroke="#333" stroke-width="0.9" />
<line x1="262.5" y1="523.8" x2="262.5" y2="525.2" stroke="#333" stroke-width="0.7" />
<line x1="268.5" y1="523.8" x2="268.5" y2="525.2" stroke="#333" stroke-width="0.7" />
<text x="23.4" y="532.6" font-family="Liberation Mono" font-size="6.8" font-weight="bold" text-anchor="middle" fill="#303030" >100.00</text>
<text x="81.8" y="532.6" font-family="Liberation Mono" font-size="6.8" font-weight="bold" text-anchor="middle" fill="#303030" >200.00</text>
<text x="140.2" y="532.6" font-family="Liberation Mono" font-size="6.8" font-weight="bold" text-anchor="middle" fill="#303030" >300.00</text>
<text x="198.6" y="532.6" font-family="Liberation Mono" font-size="6.8" font-weight="bold" text-anchor="middle" fill="#303030" >400.00</text>
<text x="257" y="532.6" font-family="Liberation Mono" font-size="6.8" font-weight="bold" text-anchor="middle" fill="#303030" >500.00</text>
<line x1="124.5" y1="523.8" x2="124.5" y2="363.6" stroke="#5a5a5a" stroke-width="1" />
<text x="124.4" y="361.6" font-family="Liberation Mono" font-size="6.95" font-weight="bold" text-anchor="middle" fill="#303030" >274.2432</text>
<line x1="98.5" y1="523.8" x2="98.5" y2="509.9" stroke="#707070" stroke-width="0.9" />
<text x="99" y="507.8" font-family="Liberation Mono" font-size="6.8" font-weight="bold" text-anchor="middle" fill="#303030" >230.2246</text>
<polyline points="125.6,523.8 125.6,506 128.5,502.6" fill="none" stroke="#444" stroke-width="0.9" stroke-linejoin="round" />
<text x="125.5" y="501.2" font-family="Liberation Mono" font-size="6.8" font-weight="bold" text-anchor="start" fill="#303030" >275.3052</text>
<text x="25" y="390.7" font-family="Liberation Serif" font-size="14.6" font-weight="bold" text-anchor="start" fill="#000" >ES+ Rt 11.76 (7)</text>
<line x1="151.5" y1="430.6" x2="164.4" y2="437.5" stroke="#000" stroke-width="1.3" />
<line x1="150.2" y1="433.4" x2="162" y2="440" stroke="#000" stroke-width="1.3" />
<text transform="translate(139.1,433.8) scale(0.94,1.0)" font-family="Liberation Sans" font-size="15.2" font-weight="normal" fill="#000">O</text>
<line x1="164.4" y1="437.5" x2="164.4" y2="459.5" stroke="#000" stroke-width="1.3" />
<line x1="164.4" y1="437.5" x2="182.9" y2="426.9" stroke="#000" stroke-width="1.3" />
<line x1="182.9" y1="426.9" x2="201.6" y2="437" stroke="#000" stroke-width="1.3" />
<line x1="183.6" y1="430.9" x2="199.8" y2="440.1" stroke="#000" stroke-width="1.3" />
<line x1="201.6" y1="437" x2="221.2" y2="426.9" stroke="#000" stroke-width="1.3" />
<line x1="221.2" y1="426.9" x2="240.2" y2="437.5" stroke="#000" stroke-width="1.3" />
<line x1="221.9" y1="430.9" x2="238.4" y2="440.5" stroke="#000" stroke-width="1.3" />
<line x1="240.2" y1="437.5" x2="240.2" y2="459.5" stroke="#000" stroke-width="1.3" />
<line x1="240.2" y1="437.5" x2="259.1" y2="426.9" stroke="#000" stroke-width="1.3" />
<line x1="259.1" y1="426.9" x2="278" y2="437" stroke="#000" stroke-width="1.3" />
<line x1="259.8" y1="430.9" x2="276.4" y2="440.1" stroke="#000" stroke-width="1.3" />
<line x1="278" y1="437" x2="296.8" y2="426.9" stroke="#000" stroke-width="1.3" />
<line x1="296.8" y1="426.9" x2="296.8" y2="404.4" stroke="#000" stroke-width="1.3" />
<line x1="296.8" y1="404.4" x2="277.6" y2="393.2" stroke="#000" stroke-width="1.3" />
<line x1="296.8" y1="404.4" x2="316.1" y2="393.7" stroke="#000" stroke-width="1.3" />
<line x1="316.1" y1="393.7" x2="335.4" y2="404.4" stroke="#000" stroke-width="1.3" />
<line x1="335.4" y1="404.4" x2="335.4" y2="426.9" stroke="#000" stroke-width="1.3" />
<line x1="335.4" y1="426.9" x2="316.1" y2="437" stroke="#000" stroke-width="1.3" />
<line x1="316.1" y1="437" x2="296.8" y2="426.9" stroke="#000" stroke-width="1.3" />
<line x1="316.1" y1="437" x2="300" y2="453.1" stroke="#000" stroke-width="1.3" />
<line x1="316.1" y1="437" x2="331.7" y2="453.1" stroke="#000" stroke-width="1.3" />
<line x1="284" y1="411.3" x2="296.8" y2="404.4" stroke="#000" stroke-width="1.3" />
<line x1="284" y1="419.3" x2="296.8" y2="426.9" stroke="#000" stroke-width="1.3" />
<text transform="translate(272.2,421.5) scale(0.94,1.0)" font-family="Liberation Sans" font-size="15" font-weight="normal" fill="#000">O</text>
<text transform="translate(159.5,433.8) scale(0.88,1.0)" font-family="Liberation Serif" font-size="14.6" font-weight="normal" fill="#000">13</text>
<text transform="translate(298.2,413.1) scale(0.86,1.0)" font-family="Liberation Serif" font-size="14.6" font-weight="normal" fill="#000">5</text>
<text transform="translate(298.3,427.7) scale(0.86,1.0)" font-family="Liberation Serif" font-size="14.6" font-weight="normal" fill="#000">6</text>
<text transform="translate(312.6,434.1) scale(0.86,1.0)" font-family="Liberation Serif" font-size="14.2" font-weight="normal" fill="#000">1</text>
<text transform="translate(277,454) scale(0.86,1.0)" font-family="Liberation Serif" font-size="14.4" font-weight="normal" fill="#000">7</text>
<line x1="171.9" y1="400.2" x2="171.9" y2="469" stroke="#000" stroke-width="1.3" stroke-dasharray="2.6,2.3"/>
<line x1="174.6" y1="400.4" x2="236.3" y2="400.4" stroke="#000" stroke-width="1.3" stroke-dasharray="3,3.4"/>
<text x="184.2" y="395.9" font-family="Liberation Serif" font-size="14.5" font-weight="normal" text-anchor="start" fill="#000" >m/z 231.17</text>
<text x="220.7" y="486" font-family="Liberation Serif" font-size="14.3" font-weight="normal" text-anchor="start" fill="#000" >M 274.17</text>
<text x="27.4" y="571.9" font-family="Liberation Serif" font-size="14.55" font-weight="normal" text-anchor="start" fill="#000" >β-apo-13-carotenone-5,6-epoxide (Major)</text>
<text x="122.2" y="588.2" font-family="Liberation Serif" font-size="14.5" font-weight="normal" text-anchor="start" fill="#000" >M 274.19</text>
<line x1="363.5" y1="359.5" x2="363.5" y2="528" stroke="#333" stroke-width="1" />
<line x1="360.3" y1="528.5" x2="363.6" y2="528.5" stroke="#333" stroke-width="0.9" />
<line x1="362.3" y1="526.5" x2="363.6" y2="526.5" stroke="#333" stroke-width="0.6" />
<line x1="362.3" y1="524.5" x2="363.6" y2="524.5" stroke="#333" stroke-width="0.6" />
<line x1="362.3" y1="522.5" x2="363.6" y2="522.5" stroke="#333" stroke-width="0.6" />
<line x1="362.3" y1="521.5" x2="363.6" y2="521.5" stroke="#333" stroke-width="0.6" />
<line x1="361.4" y1="519.5" x2="363.6" y2="519.5" stroke="#333" stroke-width="0.7" />
<line x1="362.3" y1="517.5" x2="363.6" y2="517.5" stroke="#333" stroke-width="0.6" />
<line x1="362.3" y1="516.5" x2="363.6" y2="516.5" stroke="#333" stroke-width="0.6" />
<line x1="362.3" y1="514.5" x2="363.6" y2="514.5" stroke="#333" stroke-width="0.6" />
<line x1="362.3" y1="512.5" x2="363.6" y2="512.5" stroke="#333" stroke-width="0.6" />
<line x1="360.3" y1="511.5" x2="363.6" y2="511.5" stroke="#333" stroke-width="0.9" />
<line x1="362.3" y1="509.5" x2="363.6" y2="509.5" stroke="#333" stroke-width="0.6" />
<line x1="362.3" y1="507.5" x2="363.6" y2="507.5" stroke="#333" stroke-width="0.6" />
<line x1="362.3" y1="506.5" x2="363.6" y2="506.5" stroke="#333" stroke-width="0.6" />
<line x1="362.3" y1="504.5" x2="363.6" y2="504.5" stroke="#333" stroke-width="0.6" />
<line x1="361.4" y1="502.5" x2="363.6" y2="502.5" stroke="#333" stroke-width="0.7" />
<line x1="362.3" y1="501.5" x2="363.6" y2="501.5" stroke="#333" stroke-width="0.6" />
<line x1="362.3" y1="499.5" x2="363.6" y2="499.5" stroke="#333" stroke-width="0.6" />
<line x1="362.3" y1="497.5" x2="363.6" y2="497.5" stroke="#333" stroke-width="0.6" />
<line x1="362.3" y1="496.5" x2="363.6" y2="496.5" stroke="#333" stroke-width="0.6" />
<line x1="360.3" y1="494.5" x2="363.6" y2="494.5" stroke="#333" stroke-width="0.9" />
<line x1="362.3" y1="492.5" x2="363.6" y2="492.5" stroke="#333" stroke-width="0.6" />
<line x1="362.3" y1="491.5" x2="363.6" y2="491.5" stroke="#333" stroke-width="0.6" />
<line x1="362.3" y1="489.5" x2="363.6" y2="489.5" stroke="#333" stroke-width="0.6" />
<line x1="362.3" y1="487.5" x2="363.6" y2="487.5" stroke="#333" stroke-width="0.6" />
<line x1="361.4" y1="486.5" x2="363.6" y2="486.5" stroke="#333" stroke-width="0.7" />
<line x1="362.3" y1="484.5" x2="363.6" y2="484.5" stroke="#333" stroke-width="0.6" />
<line x1="362.3" y1="482.5" x2="363.6" y2="482.5" stroke="#333" stroke-width="0.6" />
<line x1="362.3" y1="481.5" x2="363.6" y2="481.5" stroke="#333" stroke-width="0.6" />
<line x1="362.3" y1="479.5" x2="363.6" y2="479.5" stroke="#333" stroke-width="0.6" />
<line x1="360.3" y1="477.5" x2="363.6" y2="477.5" stroke="#333" stroke-width="0.9" />
<line x1="362.3" y1="476.5" x2="363.6" y2="476.5" stroke="#333" stroke-width="0.6" />
<line x1="362.3" y1="474.5" x2="363.6" y2="474.5" stroke="#333" stroke-width="0.6" />
<line x1="362.3" y1="472.5" x2="363.6" y2="472.5" stroke="#333" stroke-width="0.6" />
<line x1="362.3" y1="471.5" x2="363.6" y2="471.5" stroke="#333" stroke-width="0.6" />
<line x1="361.4" y1="469.5" x2="363.6" y2="469.5" stroke="#333" stroke-width="0.7" />
<line x1="362.3" y1="467.5" x2="363.6" y2="467.5" stroke="#333" stroke-width="0.6" />
<line x1="362.3" y1="466.5" x2="363.6" y2="466.5" stroke="#333" stroke-width="0.6" />
<line x1="362.3" y1="464.5" x2="363.6" y2="464.5" stroke="#333" stroke-width="0.6" />
<line x1="362.3" y1="462.5" x2="363.6" y2="462.5" stroke="#333" stroke-width="0.6" />
<line x1="360.3" y1="461.5" x2="363.6" y2="461.5" stroke="#333" stroke-width="0.9" />
<line x1="362.3" y1="459.5" x2="363.6" y2="459.5" stroke="#333" stroke-width="0.6" />
<line x1="362.3" y1="457.5" x2="363.6" y2="457.5" stroke="#333" stroke-width="0.6" />
<line x1="362.3" y1="455.5" x2="363.6" y2="455.5" stroke="#333" stroke-width="0.6" />
<line x1="362.3" y1="454.5" x2="363.6" y2="454.5" stroke="#333" stroke-width="0.6" />
<line x1="361.4" y1="452.5" x2="363.6" y2="452.5" stroke="#333" stroke-width="0.7" />
<line x1="362.3" y1="450.5" x2="363.6" y2="450.5" stroke="#333" stroke-width="0.6" />
<line x1="362.3" y1="449.5" x2="363.6" y2="449.5" stroke="#333" stroke-width="0.6" />
<line x1="362.3" y1="447.5" x2="363.6" y2="447.5" stroke="#333" stroke-width="0.6" />
<line x1="362.3" y1="445.5" x2="363.6" y2="445.5" stroke="#333" stroke-width="0.6" />
<line x1="360.3" y1="444.5" x2="363.6" y2="444.5" stroke="#333" stroke-width="0.9" />
<line x1="362.3" y1="442.5" x2="363.6" y2="442.5" stroke="#333" stroke-width="0.6" />
<line x1="362.3" y1="440.5" x2="363.6" y2="440.5" stroke="#333" stroke-width="0.6" />
<line x1="362.3" y1="439.5" x2="363.6" y2="439.5" stroke="#333" stroke-width="0.6" />
<line x1="362.3" y1="437.5" x2="363.6" y2="437.5" stroke="#333" stroke-width="0.6" />
<line x1="361.4" y1="435.5" x2="363.6" y2="435.5" stroke="#333" stroke-width="0.7" />
<line x1="362.3" y1="434.5" x2="363.6" y2="434.5" stroke="#333" stroke-width="0.6" />
<line x1="362.3" y1="432.5" x2="363.6" y2="432.5" stroke="#333" stroke-width="0.6" />
<line x1="362.3" y1="430.5" x2="363.6" y2="430.5" stroke="#333" stroke-width="0.6" />
<line x1="362.3" y1="429.5" x2="363.6" y2="429.5" stroke="#333" stroke-width="0.6" />
<line x1="360.3" y1="427.5" x2="363.6" y2="427.5" stroke="#333" stroke-width="0.9" />
<line x1="362.3" y1="425.5" x2="363.6" y2="425.5" stroke="#333" stroke-width="0.6" />
<line x1="362.3" y1="424.5" x2="363.6" y2="424.5" stroke="#333" stroke-width="0.6" />
<line x1="362.3" y1="422.5" x2="363.6" y2="422.5" stroke="#333" stroke-width="0.6" />
<line x1="362.3" y1="420.5" x2="363.6" y2="420.5" stroke="#333" stroke-width="0.6" />
<line x1="361.4" y1="419.5" x2="363.6" y2="419.5" stroke="#333" stroke-width="0.7" />
<line x1="362.3" y1="417.5" x2="363.6" y2="417.5" stroke="#333" stroke-width="0.6" />
<line x1="362.3" y1="415.5" x2="363.6" y2="415.5" stroke="#333" stroke-width="0.6" />
<line x1="362.3" y1="414.5" x2="363.6" y2="414.5" stroke="#333" stroke-width="0.6" />
<line x1="362.3" y1="412.5" x2="363.6" y2="412.5" stroke="#333" stroke-width="0.6" />
<line x1="360.3" y1="410.5" x2="363.6" y2="410.5" stroke="#333" stroke-width="0.9" />
<line x1="362.3" y1="409.5" x2="363.6" y2="409.5" stroke="#333" stroke-width="0.6" />
<line x1="362.3" y1="407.5" x2="363.6" y2="407.5" stroke="#333" stroke-width="0.6" />
<line x1="362.3" y1="405.5" x2="363.6" y2="405.5" stroke="#333" stroke-width="0.6" />
<line x1="362.3" y1="404.5" x2="363.6" y2="404.5" stroke="#333" stroke-width="0.6" />
<line x1="361.4" y1="402.5" x2="363.6" y2="402.5" stroke="#333" stroke-width="0.7" />
<line x1="362.3" y1="400.5" x2="363.6" y2="400.5" stroke="#333" stroke-width="0.6" />
<line x1="362.3" y1="399.5" x2="363.6" y2="399.5" stroke="#333" stroke-width="0.6" />
<line x1="362.3" y1="397.5" x2="363.6" y2="397.5" stroke="#333" stroke-width="0.6" />
<line x1="362.3" y1="395.5" x2="363.6" y2="395.5" stroke="#333" stroke-width="0.6" />
<line x1="360.3" y1="394.5" x2="363.6" y2="394.5" stroke="#333" stroke-width="0.9" />
<line x1="362.3" y1="392.5" x2="363.6" y2="392.5" stroke="#333" stroke-width="0.6" />
<line x1="362.3" y1="390.5" x2="363.6" y2="390.5" stroke="#333" stroke-width="0.6" />
<line x1="362.3" y1="388.5" x2="363.6" y2="388.5" stroke="#333" stroke-width="0.6" />
<line x1="362.3" y1="387.5" x2="363.6" y2="387.5" stroke="#333" stroke-width="0.6" />
<line x1="361.4" y1="385.5" x2="363.6" y2="385.5" stroke="#333" stroke-width="0.7" />
<line x1="362.3" y1="383.5" x2="363.6" y2="383.5" stroke="#333" stroke-width="0.6" />
<line x1="362.3" y1="382.5" x2="363.6" y2="382.5" stroke="#333" stroke-width="0.6" />
<line x1="362.3" y1="380.5" x2="363.6" y2="380.5" stroke="#333" stroke-width="0.6" />
<line x1="362.3" y1="378.5" x2="363.6" y2="378.5" stroke="#333" stroke-width="0.6" />
<line x1="360.3" y1="377.5" x2="363.6" y2="377.5" stroke="#333" stroke-width="0.9" />
<line x1="362.3" y1="375.5" x2="363.6" y2="375.5" stroke="#333" stroke-width="0.6" />
<line x1="362.3" y1="373.5" x2="363.6" y2="373.5" stroke="#333" stroke-width="0.6" />
<line x1="362.3" y1="372.5" x2="363.6" y2="372.5" stroke="#333" stroke-width="0.6" />
<line x1="362.3" y1="370.5" x2="363.6" y2="370.5" stroke="#333" stroke-width="0.6" />
<line x1="361.4" y1="368.5" x2="363.6" y2="368.5" stroke="#333" stroke-width="0.7" />
<line x1="362.3" y1="367.5" x2="363.6" y2="367.5" stroke="#333" stroke-width="0.6" />
<line x1="362.3" y1="365.5" x2="363.6" y2="365.5" stroke="#333" stroke-width="0.6" />
<line x1="362.3" y1="363.5" x2="363.6" y2="363.5" stroke="#333" stroke-width="0.6" />
<line x1="362.3" y1="362.5" x2="363.6" y2="362.5" stroke="#333" stroke-width="0.6" />
<line x1="360.3" y1="360.5" x2="363.6" y2="360.5" stroke="#333" stroke-width="0.9" />
<text x="360.5" y="530.4" font-family="Liberation Mono" font-size="7" font-weight="bold" text-anchor="end" fill="#303030" >0</text>
<text x="360.5" y="513.65" font-family="Liberation Mono" font-size="7" font-weight="bold" text-anchor="end" fill="#303030" >10</text>
<text x="360.5" y="496.9" font-family="Liberation Mono" font-size="7" font-weight="bold" text-anchor="end" fill="#303030" >20</text>
<text x="360.5" y="480.15" font-family="Liberation Mono" font-size="7" font-weight="bold" text-anchor="end" fill="#303030" >30</text>
<text x="360.5" y="463.4" font-family="Liberation Mono" font-size="7" font-weight="bold" text-anchor="end" fill="#303030" >40</text>
<text x="360.5" y="446.65" font-family="Liberation Mono" font-size="7" font-weight="bold" text-anchor="end" fill="#303030" >50</text>
<text x="360.5" y="429.9" font-family="Liberation Mono" font-size="7" font-weight="bold" text-anchor="end" fill="#303030" >60</text>
<text x="360.5" y="413.15" font-family="Liberation Mono" font-size="7" font-weight="bold" text-anchor="end" fill="#303030" >70</text>
<text x="360.5" y="396.4" font-family="Liberation Mono" font-size="7" font-weight="bold" text-anchor="end" fill="#303030" >80</text>
<text x="360.5" y="379.65" font-family="Liberation Mono" font-size="7" font-weight="bold" text-anchor="end" fill="#303030" >90</text>
<text x="360.5" y="362.9" font-family="Liberation Mono" font-size="7" font-weight="bold" text-anchor="end" fill="#303030" >100</text>
<line x1="363.6" y1="528.5" x2="624.8" y2="528.5" stroke="#333" stroke-width="1" />
<line x1="364.5" y1="528" x2="364.5" y2="530.8" stroke="#333" stroke-width="0.9" />
<line x1="370.5" y1="528" x2="370.5" y2="529.4" stroke="#333" stroke-width="0.7" />
<line x1="376.5" y1="528" x2="376.5" y2="529.4" stroke="#333" stroke-width="0.7" />
<line x1="382.5" y1="528" x2="382.5" y2="529.4" stroke="#333" stroke-width="0.7" />
<line x1="388.5" y1="528" x2="388.5" y2="529.4" stroke="#333" stroke-width="0.7" />
<line x1="394.5" y1="528" x2="394.5" y2="530.8" stroke="#333" stroke-width="0.9" />
<line x1="400.5" y1="528" x2="400.5" y2="529.4" stroke="#333" stroke-width="0.7" />
<line x1="406.5" y1="528" x2="406.5" y2="529.4" stroke="#333" stroke-width="0.7" />
<line x1="412.5" y1="528" x2="412.5" y2="529.4" stroke="#333" stroke-width="0.7" />
<line x1="419.5" y1="528" x2="419.5" y2="529.4" stroke="#333" stroke-width="0.7" />
<line x1="425.5" y1="528" x2="425.5" y2="530.8" stroke="#333" stroke-width="0.9" />
<line x1="431.5" y1="528" x2="431.5" y2="529.4" stroke="#333" stroke-width="0.7" />
<line x1="437.5" y1="528" x2="437.5" y2="529.4" stroke="#333" stroke-width="0.7" />
<line x1="443.5" y1="528" x2="443.5" y2="529.4" stroke="#333" stroke-width="0.7" />
<line x1="449.5" y1="528" x2="449.5" y2="529.4" stroke="#333" stroke-width="0.7" />
<line x1="455.5" y1="528" x2="455.5" y2="530.8" stroke="#333" stroke-width="0.9" />
<line x1="461.5" y1="528" x2="461.5" y2="529.4" stroke="#333" stroke-width="0.7" />
<line x1="467.5" y1="528" x2="467.5" y2="529.4" stroke="#333" stroke-width="0.7" />
<line x1="473.5" y1="528" x2="473.5" y2="529.4" stroke="#333" stroke-width="0.7" />
<line x1="480.5" y1="528" x2="480.5" y2="529.4" stroke="#333" stroke-width="0.7" />
<line x1="486.5" y1="528" x2="486.5" y2="530.8" stroke="#333" stroke-width="0.9" />
<line x1="492.5" y1="528" x2="492.5" y2="529.4" stroke="#333" stroke-width="0.7" />
<line x1="498.5" y1="528" x2="498.5" y2="529.4" stroke="#333" stroke-width="0.7" />
<line x1="504.5" y1="528" x2="504.5" y2="529.4" stroke="#333" stroke-width="0.7" />
<line x1="510.5" y1="528" x2="510.5" y2="529.4" stroke="#333" stroke-width="0.7" />
<line x1="516.5" y1="528" x2="516.5" y2="530.8" stroke="#333" stroke-width="0.9" />
<line x1="522.5" y1="528" x2="522.5" y2="529.4" stroke="#333" stroke-width="0.7" />
<line x1="528.5" y1="528" x2="528.5" y2="529.4" stroke="#333" stroke-width="0.7" />
<line x1="534.5" y1="528" x2="534.5" y2="529.4" stroke="#333" stroke-width="0.7" />
<line x1="541.5" y1="528" x2="541.5" y2="529.4" stroke="#333" stroke-width="0.7" />
<line x1="547.5" y1="528" x2="547.5" y2="530.8" stroke="#333" stroke-width="0.9" />
<line x1="553.5" y1="528" x2="553.5" y2="529.4" stroke="#333" stroke-width="0.7" />
<line x1="559.5" y1="528" x2="559.5" y2="529.4" stroke="#333" stroke-width="0.7" />
<line x1="565.5" y1="528" x2="565.5" y2="529.4" stroke="#333" stroke-width="0.7" />
<line x1="571.5" y1="528" x2="571.5" y2="529.4" stroke="#333" stroke-width="0.7" />
<line x1="577.5" y1="528" x2="577.5" y2="530.8" stroke="#333" stroke-width="0.9" />
<line x1="583.5" y1="528" x2="583.5" y2="529.4" stroke="#333" stroke-width="0.7" />
<line x1="589.5" y1="528" x2="589.5" y2="529.4" stroke="#333" stroke-width="0.7" />
<line x1="595.5" y1="528" x2="595.5" y2="529.4" stroke="#333" stroke-width="0.7" />
<line x1="602.5" y1="528" x2="602.5" y2="529.4" stroke="#333" stroke-width="0.7" />
<line x1="608.5" y1="528" x2="608.5" y2="530.8" stroke="#333" stroke-width="0.9" />
<line x1="614.5" y1="528" x2="614.5" y2="529.4" stroke="#333" stroke-width="0.7" />
<line x1="620.5" y1="528" x2="620.5" y2="529.4" stroke="#333" stroke-width="0.7" />
<text x="364.1" y="538.2" font-family="Liberation Mono" font-size="6.9" font-weight="bold" text-anchor="middle" fill="#303030" >100.00</text>
<text x="425.1" y="538.2" font-family="Liberation Mono" font-size="6.9" font-weight="bold" text-anchor="middle" fill="#303030" >200.00</text>
<text x="486.1" y="538.2" font-family="Liberation Mono" font-size="6.9" font-weight="bold" text-anchor="middle" fill="#303030" >300.00</text>
<text x="547.1" y="538.2" font-family="Liberation Mono" font-size="6.9" font-weight="bold" text-anchor="middle" fill="#303030" >400.00</text>
<text x="608.1" y="538.2" font-family="Liberation Mono" font-size="6.9" font-weight="bold" text-anchor="middle" fill="#303030" >500.00</text>
<line x1="492.5" y1="528" x2="492.5" y2="360.5" stroke="#707070" stroke-width="1" />
<text x="492.6" y="359.6" font-family="Liberation Mono" font-size="7.2" font-weight="bold" text-anchor="middle" fill="#303030" >311.1954</text>
<polyline points="493.6,528 493.6,505.3 497.4,501.4" fill="none" stroke="#444" stroke-width="0.9" stroke-linejoin="round" />
<text x="493.5" y="500" font-family="Liberation Mono" font-size="7" font-weight="bold" text-anchor="start" fill="#303030" >312.2571</text>
<polyline points="494.4,528 494.4,515.9 498,511.7" fill="none" stroke="#444" stroke-width="0.9" stroke-linejoin="round" />
<text x="498" y="514.2" font-family="Liberation Mono" font-size="7" font-weight="bold" text-anchor="start" fill="#303030" >313.2214</text>
<line x1="518.5" y1="528" x2="518.5" y2="523.9" stroke="#707070" stroke-width="0.9" />
<polyline points="534.3,528 534.3,524.8 537.5,520.7" fill="none" stroke="#444" stroke-width="0.9" stroke-linejoin="round" />
<text x="535.3" y="518.4" font-family="Liberation Mono" font-size="7" font-weight="bold" text-anchor="start" fill="#303030" >379.2785</text>
<text x="368.4" y="393.6" font-family="Liberation Serif" font-size="14.45" font-weight="bold" text-anchor="start" fill="#000" >ES- Rt 16.05 (12)</text>
<text transform="translate(374.5,447.5) scale(0.94,1.0)" font-family="Liberation Sans" font-size="15" font-weight="normal" fill="#000">O</text>
<line x1="385.5" y1="445.5" x2="398.9" y2="452.6" stroke="#000" stroke-width="1.3" />
<line x1="383.8" y1="448.7" x2="397.3" y2="455.8" stroke="#000" stroke-width="1.3" />
<line x1="398.9" y1="452.6" x2="398.9" y2="475" stroke="#000" stroke-width="1.3" />
<line x1="398.9" y1="452.6" x2="417.7" y2="442" stroke="#000" stroke-width="1.3" />
<line x1="417.7" y1="442" x2="417.7" y2="419.3" stroke="#000" stroke-width="1.3" />
<line x1="417.7" y1="442" x2="436.2" y2="452.6" stroke="#000" stroke-width="1.3" />
<line x1="418.5" y1="445.9" x2="434.6" y2="456" stroke="#000" stroke-width="1.3" />
<line x1="436.2" y1="452.6" x2="455.8" y2="442" stroke="#000" stroke-width="1.3" />
<line x1="455.8" y1="442" x2="474.2" y2="452.6" stroke="#000" stroke-width="1.3" />
<line x1="456.6" y1="445.9" x2="472.6" y2="456" stroke="#000" stroke-width="1.3" />
<line x1="474.2" y1="452.6" x2="493.2" y2="441.7" stroke="#000" stroke-width="1.3" />
<line x1="493.2" y1="441.7" x2="512.7" y2="452.1" stroke="#000" stroke-width="1.3" />
<line x1="494" y1="445.6" x2="511.1" y2="455.5" stroke="#000" stroke-width="1.3" />
<line x1="512.7" y1="452.1" x2="531.1" y2="441.7" stroke="#000" stroke-width="1.3" />
<line x1="531.1" y1="441.7" x2="550.7" y2="452.1" stroke="#000" stroke-width="1.3" />
<line x1="531.9" y1="445.6" x2="549.1" y2="455.5" stroke="#000" stroke-width="1.3" />
<line x1="550.7" y1="452.1" x2="569.1" y2="441.7" stroke="#000" stroke-width="1.3" />
<line x1="569.1" y1="441.7" x2="588" y2="452.1" stroke="#000" stroke-width="1.3" />
<line x1="569.9" y1="445.6" x2="586.4" y2="455.5" stroke="#000" stroke-width="1.3" />
<line x1="588" y1="452.1" x2="607.4" y2="441.6" stroke="#000" stroke-width="1.3" />
<line x1="607.4" y1="441.6" x2="626" y2="451.8" stroke="#000" stroke-width="1.3" />
<line x1="608.2" y1="445.5" x2="624.4" y2="455.2" stroke="#000" stroke-width="1.3" />
<line x1="626" y1="451.8" x2="645" y2="441.1" stroke="#000" stroke-width="1.3" />
<line x1="512.7" y1="452.1" x2="512.7" y2="474" stroke="#000" stroke-width="1.3" />
<line x1="588" y1="452.1" x2="588" y2="474" stroke="#000" stroke-width="1.3" />
<line x1="645" y1="441.1" x2="645" y2="419.3" stroke="#000" stroke-width="1.3" />
<line x1="645" y1="419.3" x2="626" y2="408.7" stroke="#000" stroke-width="1.3" />
<line x1="645" y1="419.3" x2="664.2" y2="408.7" stroke="#000" stroke-width="1.3" />
<line x1="664.2" y1="408.7" x2="682.8" y2="419.3" stroke="#000" stroke-width="1.3" />
<line x1="682.8" y1="419.3" x2="682.8" y2="441.6" stroke="#000" stroke-width="1.3" />
<line x1="682.8" y1="441.6" x2="664.2" y2="452.2" stroke="#000" stroke-width="1.3" />
<line x1="664.2" y1="452.2" x2="645" y2="441.1" stroke="#000" stroke-width="1.3" />
<line x1="664.2" y1="452.2" x2="648.7" y2="467.7" stroke="#000" stroke-width="1.3" />
<line x1="664.2" y1="452.2" x2="680" y2="467.7" stroke="#000" stroke-width="1.3" />
<line x1="632" y1="425.8" x2="645" y2="419.3" stroke="#000" stroke-width="1.3" />
<line x1="632" y1="434.2" x2="645" y2="441.1" stroke="#000" stroke-width="1.3" />
<text transform="translate(620.4,436.6) scale(0.94,1.0)" font-family="Liberation Sans" font-size="15" font-weight="normal" fill="#000">O</text>
<text transform="translate(392.4,447.5) scale(0.9,1.0)" font-family="Liberation Serif" font-size="14.8" font-weight="normal" fill="#000">12'</text>
<text transform="translate(622.2,469.2) scale(0.86,1.0)" font-family="Liberation Serif" font-size="14.4" font-weight="normal" fill="#000">7</text>
<line x1="629.8" y1="477.5" x2="684.6" y2="397.9" stroke="#000" stroke-width="1.3" stroke-dasharray="3,2.5"/>
<line x1="648.7" y1="377.1" x2="684.6" y2="397.9" stroke="#000" stroke-width="1.3" stroke-dasharray="3,2.5"/>
<text x="633.5" y="395.7" font-family="Liberation Serif" font-size="14.3" font-weight="normal" text-anchor="start" fill="#000" >310.19</text>
<text x="511.4" y="416.4" font-family="Liberation Serif" font-size="14.3" font-weight="normal" text-anchor="start" fill="#000" >M 380.27</text>
<text x="374.3" y="573.6" font-family="Liberation Serif" font-size="14.5" font-weight="normal" text-anchor="start" fill="#000" >β-apo-12'-carotenone-5,6-epoxide (Minor)</text>
<text x="469.6" y="590" font-family="Liberation Serif" font-size="14.4" font-weight="normal" text-anchor="start" fill="#000" >M 380.27</text>
</svg>
</body></html>
